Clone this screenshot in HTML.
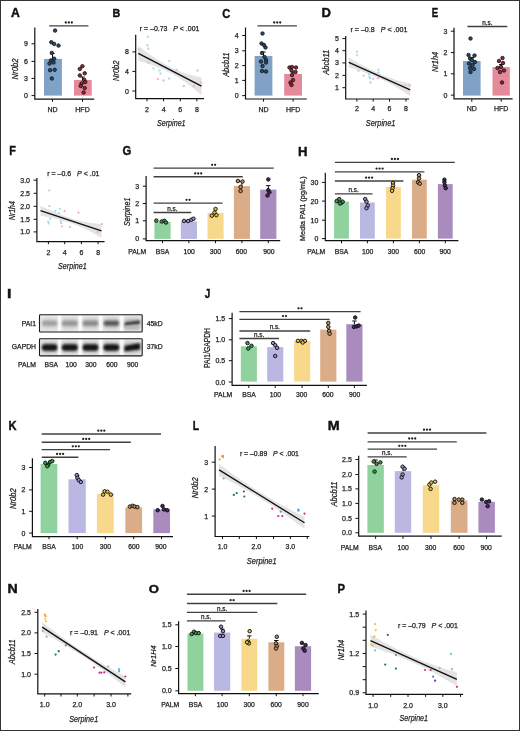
<!DOCTYPE html><html><head><meta charset="utf-8"><style>html,body{margin:0;padding:0;background:#fff;}svg{display:block;will-change:transform;}text{font-family:"Liberation Sans",sans-serif;stroke:#222;stroke-width:0.25px;}</style></head><body>
<svg width="520" height="731" viewBox="0 0 520 731">
<rect x="0.0" y="0.0" width="520.0" height="731.0" fill="#fff"/>
<rect x="0.5" y="0.5" width="519" height="730" fill="none" stroke="#333" stroke-width="1"/>
<text transform="translate(11.25,17.35) scale(1.025,1)" x="-0.30" y="0" font-size="11.92" font-weight="bold" fill="#111" style="stroke:#111;stroke-width:0.4px">A</text>
<path d="M34.8 27.4 V99.2 H94.2" fill="none" stroke="#111" stroke-width="1.2"/>
<line x1="31.5" y1="95.6" x2="34.8" y2="95.6" stroke="#111" stroke-width="1.0"/>
<text x="27.9" y="98.1" font-size="7" text-anchor="end" fill="#222">0</text>
<line x1="31.5" y1="78.4" x2="34.8" y2="78.4" stroke="#111" stroke-width="1.0"/>
<text x="27.9" y="80.9" font-size="7" text-anchor="end" fill="#222">3</text>
<line x1="31.5" y1="61.4" x2="34.8" y2="61.4" stroke="#111" stroke-width="1.0"/>
<text x="27.9" y="63.9" font-size="7" text-anchor="end" fill="#222">6</text>
<line x1="31.5" y1="43.8" x2="34.8" y2="43.8" stroke="#111" stroke-width="1.0"/>
<text x="27.9" y="46.3" font-size="7" text-anchor="end" fill="#222">9</text>
<line x1="52.5" y1="99.2" x2="52.5" y2="101.8" stroke="#111" stroke-width="1.0"/>
<text x="52.5" y="111.8" font-size="7" text-anchor="middle" fill="#222">ND</text>
<line x1="82.5" y1="99.2" x2="82.5" y2="101.8" stroke="#111" stroke-width="1.0"/>
<text x="82.5" y="111.8" font-size="7" text-anchor="middle" fill="#222">HFD</text>
<rect x="44.0" y="58.9" width="17.9" height="36.7" fill="#7fa2c6"/>
<rect x="74.0" y="80.0" width="17.7" height="15.6" fill="#e38a9b"/>
<line x1="49.2" y1="25.8" x2="88.4" y2="25.8" stroke="#404040" stroke-width="1.35"/>
<circle cx="65.8" cy="22.5" r="1.15" fill="#222" fill-opacity="1"/>
<circle cx="68.8" cy="22.5" r="1.15" fill="#222" fill-opacity="1"/>
<circle cx="71.8" cy="22.5" r="1.15" fill="#222" fill-opacity="1"/>
<text transform="translate(18.4,69.0) rotate(-90)" x="0" y="0" font-size="9" text-anchor="middle" fill="#222" font-style="italic" textLength="20.9" lengthAdjust="spacingAndGlyphs">Nr0b2</text>
<line x1="52.5" y1="58.9" x2="52.5" y2="53.5" stroke="#111" stroke-width="1.0"/>
<line x1="50.3" y1="53.5" x2="54.7" y2="53.5" stroke="#111" stroke-width="1.0"/>
<line x1="82.5" y1="80.0" x2="82.5" y2="77.0" stroke="#111" stroke-width="1.0"/>
<line x1="80.3" y1="77.0" x2="84.7" y2="77.0" stroke="#111" stroke-width="1.0"/>
<circle cx="55.1" cy="30.6" r="1.75" fill="#24496f" stroke="#111" stroke-width="0.8"/>
<circle cx="51.3" cy="42.2" r="1.75" fill="#24496f" stroke="#111" stroke-width="0.8"/>
<circle cx="54.2" cy="43.9" r="1.75" fill="#24496f" stroke="#111" stroke-width="0.8"/>
<circle cx="58.5" cy="45.6" r="1.75" fill="#24496f" stroke="#111" stroke-width="0.8"/>
<circle cx="51.8" cy="52.9" r="1.75" fill="#24496f" stroke="#111" stroke-width="0.8"/>
<circle cx="54.2" cy="58.7" r="1.75" fill="#24496f" stroke="#111" stroke-width="0.8"/>
<circle cx="51.0" cy="60.4" r="1.75" fill="#24496f" stroke="#111" stroke-width="0.8"/>
<circle cx="49.5" cy="63.6" r="1.75" fill="#24496f" stroke="#111" stroke-width="0.8"/>
<circle cx="50.1" cy="70.2" r="1.75" fill="#24496f" stroke="#111" stroke-width="0.8"/>
<circle cx="54.7" cy="69.8" r="1.75" fill="#24496f" stroke="#111" stroke-width="0.8"/>
<circle cx="51.8" cy="78.5" r="1.75" fill="#24496f" stroke="#111" stroke-width="0.8"/>
<circle cx="53.5" cy="62.5" r="1.75" fill="#24496f" stroke="#111" stroke-width="0.8"/>
<circle cx="82.4" cy="66.2" r="1.75" fill="#9a2139" stroke="#111" stroke-width="0.8"/>
<circle cx="79.8" cy="69.0" r="1.75" fill="#9a2139" stroke="#111" stroke-width="0.8"/>
<circle cx="84.7" cy="73.3" r="1.75" fill="#9a2139" stroke="#111" stroke-width="0.8"/>
<circle cx="79.8" cy="75.4" r="1.75" fill="#9a2139" stroke="#111" stroke-width="0.8"/>
<circle cx="84.2" cy="79.8" r="1.75" fill="#9a2139" stroke="#111" stroke-width="0.8"/>
<circle cx="85.3" cy="82.0" r="1.75" fill="#9a2139" stroke="#111" stroke-width="0.8"/>
<circle cx="81.6" cy="83.5" r="1.75" fill="#9a2139" stroke="#111" stroke-width="0.8"/>
<circle cx="80.7" cy="86.0" r="1.75" fill="#9a2139" stroke="#111" stroke-width="0.8"/>
<circle cx="84.7" cy="88.1" r="1.75" fill="#9a2139" stroke="#111" stroke-width="0.8"/>
<circle cx="83.6" cy="92.5" r="1.75" fill="#9a2139" stroke="#111" stroke-width="0.8"/>
<text transform="translate(113.25,17.35) scale(0.919,1)" x="-0.79" y="0" font-size="11.77" font-weight="bold" fill="#111" style="stroke:#111;stroke-width:0.4px">B</text>
<path d="M135.7 34.7 V98.7 H204.0" fill="none" stroke="#111" stroke-width="1.2"/>
<line x1="132.4" y1="91.0" x2="135.7" y2="91.0" stroke="#111" stroke-width="1.0"/>
<text x="128.8" y="93.5" font-size="7" text-anchor="end" fill="#222">0</text>
<line x1="132.4" y1="71.4" x2="135.7" y2="71.4" stroke="#111" stroke-width="1.0"/>
<text x="128.8" y="73.9" font-size="7" text-anchor="end" fill="#222">4</text>
<line x1="132.4" y1="51.9" x2="135.7" y2="51.9" stroke="#111" stroke-width="1.0"/>
<text x="128.8" y="54.4" font-size="7" text-anchor="end" fill="#222">8</text>
<line x1="147.0" y1="98.7" x2="147.0" y2="101.3" stroke="#111" stroke-width="1.0"/>
<text x="147.0" y="111.8" font-size="7" text-anchor="middle" fill="#222">2</text>
<line x1="163.6" y1="98.7" x2="163.6" y2="101.3" stroke="#111" stroke-width="1.0"/>
<text x="163.6" y="111.8" font-size="7" text-anchor="middle" fill="#222">4</text>
<line x1="180.3" y1="98.7" x2="180.3" y2="101.3" stroke="#111" stroke-width="1.0"/>
<text x="180.3" y="111.8" font-size="7" text-anchor="middle" fill="#222">6</text>
<line x1="196.9" y1="98.7" x2="196.9" y2="101.3" stroke="#111" stroke-width="1.0"/>
<text x="196.9" y="111.8" font-size="7" text-anchor="middle" fill="#222">8</text>
<path d="M138.3 45.8 L141.5 48.3 L144.6 50.7 L147.8 53.0 L150.9 55.3 L154.1 57.4 L157.3 59.5 L160.4 61.4 L163.6 63.3 L166.7 65.1 L169.9 66.8 L173.1 68.3 L176.2 69.8 L179.4 71.1 L182.5 72.4 L185.7 73.5 L188.9 74.5 L192.0 75.3 L195.2 76.1 L198.3 76.7 L201.5 77.2 L201.5 95.2 L198.3 92.4 L195.2 89.8 L192.0 87.2 L188.9 84.8 L185.7 82.5 L182.5 80.3 L179.4 78.2 L176.2 76.3 L173.1 74.5 L169.9 72.8 L166.7 71.2 L163.6 69.6 L160.4 68.2 L157.3 66.9 L154.1 65.7 L150.9 64.5 L147.8 63.4 L144.6 62.5 L141.5 61.6 L138.3 60.8 Z" fill="#d9d9d9" fill-opacity="0.75"/>
<line x1="138.3" y1="53.3" x2="201.5" y2="86.2" stroke="#111" stroke-width="1.35"/>
<text x="169.6" y="31.0" font-size="7" text-anchor="middle" fill="#222" textLength="59.6" lengthAdjust="spacingAndGlyphs">r = &#8211;0.73&#160;&#160;&#160;<tspan font-style="italic">P</tspan> &lt; .001</text>
<text transform="translate(118.6,70.8) rotate(-90)" x="0" y="0" font-size="9" text-anchor="middle" fill="#222" font-style="italic" textLength="20.5" lengthAdjust="spacingAndGlyphs">Nr0b2</text>
<text x="171.3" y="125.8" font-size="9.6" text-anchor="middle" fill="#222" font-style="italic" textLength="28.6" lengthAdjust="spacingAndGlyphs">Serpine1</text>
<circle cx="147.8" cy="36.7" r="1.25" fill="#a9d6ee" fill-opacity="0.8"/>
<circle cx="147.4" cy="45.2" r="1.25" fill="#a9d6ee" fill-opacity="0.8"/>
<circle cx="148.4" cy="48.8" r="1.25" fill="#a9d6ee" fill-opacity="0.8"/>
<circle cx="138.7" cy="49.2" r="1.25" fill="#a9d6ee" fill-opacity="0.8"/>
<circle cx="153.5" cy="68.4" r="1.25" fill="#a9d6ee" fill-opacity="0.8"/>
<circle cx="159.5" cy="70.4" r="1.25" fill="#a9d6ee" fill-opacity="0.8"/>
<circle cx="160.5" cy="73.5" r="1.25" fill="#a9d6ee" fill-opacity="0.8"/>
<circle cx="169.2" cy="61.0" r="1.25" fill="#a9d6ee" fill-opacity="0.8"/>
<circle cx="169.2" cy="78.5" r="1.25" fill="#a9d6ee" fill-opacity="0.8"/>
<circle cx="176.7" cy="69.8" r="1.25" fill="#a9d6ee" fill-opacity="0.8"/>
<circle cx="148.4" cy="62.4" r="1.25" fill="#a9d6ee" fill-opacity="0.8"/>
<circle cx="157.9" cy="78.9" r="1.25" fill="#eab0be" fill-opacity="0.8"/>
<circle cx="163.6" cy="80.5" r="1.25" fill="#eab0be" fill-opacity="0.8"/>
<circle cx="183.8" cy="86.0" r="1.25" fill="#eab0be" fill-opacity="0.8"/>
<circle cx="193.9" cy="86.0" r="1.25" fill="#eab0be" fill-opacity="0.8"/>
<circle cx="197.5" cy="70.4" r="1.25" fill="#eab0be" fill-opacity="0.8"/>
<circle cx="200.9" cy="82.6" r="1.25" fill="#eab0be" fill-opacity="0.8"/>
<text transform="translate(222.65,17.53) scale(0.912,1)" x="-0.50" y="0" font-size="12.08" font-weight="bold" fill="#111" style="stroke:#111;stroke-width:0.4px">C</text>
<path d="M245.5 27.5 V99.0 H306.8" fill="none" stroke="#111" stroke-width="1.2"/>
<line x1="242.2" y1="95.6" x2="245.5" y2="95.6" stroke="#111" stroke-width="1.0"/>
<text x="238.6" y="98.1" font-size="7" text-anchor="end" fill="#222">0</text>
<line x1="242.2" y1="80.4" x2="245.5" y2="80.4" stroke="#111" stroke-width="1.0"/>
<text x="238.6" y="82.9" font-size="7" text-anchor="end" fill="#222">1</text>
<line x1="242.2" y1="65.6" x2="245.5" y2="65.6" stroke="#111" stroke-width="1.0"/>
<text x="238.6" y="68.1" font-size="7" text-anchor="end" fill="#222">2</text>
<line x1="242.2" y1="50.8" x2="245.5" y2="50.8" stroke="#111" stroke-width="1.0"/>
<text x="238.6" y="53.3" font-size="7" text-anchor="end" fill="#222">3</text>
<line x1="242.2" y1="35.5" x2="245.5" y2="35.5" stroke="#111" stroke-width="1.0"/>
<text x="238.6" y="38.0" font-size="7" text-anchor="end" fill="#222">4</text>
<line x1="263.5" y1="99.0" x2="263.5" y2="101.6" stroke="#111" stroke-width="1.0"/>
<text x="263.5" y="111.8" font-size="7" text-anchor="middle" fill="#222">ND</text>
<line x1="293.1" y1="99.0" x2="293.1" y2="101.6" stroke="#111" stroke-width="1.0"/>
<text x="293.1" y="111.8" font-size="7" text-anchor="middle" fill="#222">HFD</text>
<rect x="254.6" y="56.0" width="17.8" height="39.6" fill="#7fa2c6"/>
<rect x="284.2" y="74.0" width="17.8" height="21.6" fill="#e38a9b"/>
<line x1="257.5" y1="25.8" x2="296.9" y2="25.8" stroke="#404040" stroke-width="1.35"/>
<circle cx="274.2" cy="22.5" r="1.15" fill="#222" fill-opacity="1"/>
<circle cx="277.2" cy="22.5" r="1.15" fill="#222" fill-opacity="1"/>
<circle cx="280.2" cy="22.5" r="1.15" fill="#222" fill-opacity="1"/>
<text transform="translate(229.0,64.6) rotate(-90)" x="0" y="0" font-size="9" text-anchor="middle" fill="#222" font-style="italic" textLength="24.4" lengthAdjust="spacingAndGlyphs">Abcb11</text>
<line x1="263.5" y1="56.0" x2="263.5" y2="52.0" stroke="#111" stroke-width="1.0"/>
<line x1="261.3" y1="52.0" x2="265.7" y2="52.0" stroke="#111" stroke-width="1.0"/>
<line x1="293.1" y1="74.0" x2="293.1" y2="72.0" stroke="#111" stroke-width="1.0"/>
<line x1="290.9" y1="72.0" x2="295.3" y2="72.0" stroke="#111" stroke-width="1.0"/>
<circle cx="262.5" cy="33.5" r="1.75" fill="#24496f" stroke="#111" stroke-width="0.8"/>
<circle cx="261.5" cy="43.5" r="1.75" fill="#24496f" stroke="#111" stroke-width="0.8"/>
<circle cx="264.0" cy="45.0" r="1.75" fill="#24496f" stroke="#111" stroke-width="0.8"/>
<circle cx="265.5" cy="47.5" r="1.75" fill="#24496f" stroke="#111" stroke-width="0.8"/>
<circle cx="262.0" cy="53.0" r="1.75" fill="#24496f" stroke="#111" stroke-width="0.8"/>
<circle cx="264.5" cy="57.0" r="1.75" fill="#24496f" stroke="#111" stroke-width="0.8"/>
<circle cx="266.0" cy="60.0" r="1.75" fill="#24496f" stroke="#111" stroke-width="0.8"/>
<circle cx="261.0" cy="61.5" r="1.75" fill="#24496f" stroke="#111" stroke-width="0.8"/>
<circle cx="266.0" cy="62.5" r="1.75" fill="#24496f" stroke="#111" stroke-width="0.8"/>
<circle cx="262.5" cy="66.0" r="1.75" fill="#24496f" stroke="#111" stroke-width="0.8"/>
<circle cx="262.0" cy="71.0" r="1.75" fill="#24496f" stroke="#111" stroke-width="0.8"/>
<circle cx="266.0" cy="71.5" r="1.75" fill="#24496f" stroke="#111" stroke-width="0.8"/>
<circle cx="289.5" cy="67.5" r="1.75" fill="#9a2139" stroke="#111" stroke-width="0.8"/>
<circle cx="292.0" cy="67.0" r="1.75" fill="#9a2139" stroke="#111" stroke-width="0.8"/>
<circle cx="296.0" cy="67.5" r="1.75" fill="#9a2139" stroke="#111" stroke-width="0.8"/>
<circle cx="291.5" cy="70.5" r="1.75" fill="#9a2139" stroke="#111" stroke-width="0.8"/>
<circle cx="295.5" cy="72.0" r="1.75" fill="#9a2139" stroke="#111" stroke-width="0.8"/>
<circle cx="292.0" cy="75.0" r="1.75" fill="#9a2139" stroke="#111" stroke-width="0.8"/>
<circle cx="290.5" cy="82.5" r="1.75" fill="#9a2139" stroke="#111" stroke-width="0.8"/>
<circle cx="291.5" cy="85.0" r="1.75" fill="#9a2139" stroke="#111" stroke-width="0.8"/>
<circle cx="293.0" cy="80.0" r="1.75" fill="#9a2139" stroke="#111" stroke-width="0.8"/>
<text transform="translate(322.45,17.45) scale(1.094,1)" x="-0.80" y="0" font-size="11.92" font-weight="bold" fill="#111" style="stroke:#111;stroke-width:0.4px">D</text>
<path d="M345.7 35.9 V99.0 H409.1" fill="none" stroke="#111" stroke-width="1.2"/>
<line x1="342.4" y1="87.7" x2="345.7" y2="87.7" stroke="#111" stroke-width="1.0"/>
<text x="338.8" y="90.2" font-size="7" text-anchor="end" fill="#222">1</text>
<line x1="342.4" y1="75.4" x2="345.7" y2="75.4" stroke="#111" stroke-width="1.0"/>
<text x="338.8" y="77.9" font-size="7" text-anchor="end" fill="#222">2</text>
<line x1="342.4" y1="62.9" x2="345.7" y2="62.9" stroke="#111" stroke-width="1.0"/>
<text x="338.8" y="65.4" font-size="7" text-anchor="end" fill="#222">3</text>
<line x1="342.4" y1="50.7" x2="345.7" y2="50.7" stroke="#111" stroke-width="1.0"/>
<text x="338.8" y="53.2" font-size="7" text-anchor="end" fill="#222">4</text>
<line x1="342.4" y1="38.6" x2="345.7" y2="38.6" stroke="#111" stroke-width="1.0"/>
<text x="338.8" y="41.1" font-size="7" text-anchor="end" fill="#222">5</text>
<line x1="356.9" y1="99.0" x2="356.9" y2="101.6" stroke="#111" stroke-width="1.0"/>
<text x="356.9" y="111.4" font-size="7" text-anchor="middle" fill="#222">2</text>
<line x1="373.2" y1="99.0" x2="373.2" y2="101.6" stroke="#111" stroke-width="1.0"/>
<text x="373.2" y="111.4" font-size="7" text-anchor="middle" fill="#222">4</text>
<line x1="389.5" y1="99.0" x2="389.5" y2="101.6" stroke="#111" stroke-width="1.0"/>
<text x="389.5" y="111.4" font-size="7" text-anchor="middle" fill="#222">6</text>
<line x1="406.0" y1="99.0" x2="406.0" y2="101.6" stroke="#111" stroke-width="1.0"/>
<text x="406.0" y="111.4" font-size="7" text-anchor="middle" fill="#222">8</text>
<path d="M348.8 57.3 L351.9 59.1 L354.9 60.9 L358.0 62.7 L361.1 64.4 L364.1 66.0 L367.2 67.6 L370.3 69.2 L373.4 70.7 L376.4 72.1 L379.5 73.5 L382.6 74.9 L385.6 76.1 L388.7 77.3 L391.8 78.4 L394.9 79.4 L397.9 80.4 L401.0 81.2 L404.1 82.0 L407.1 82.7 L410.2 83.3 L410.2 96.3 L407.1 94.2 L404.1 92.1 L401.0 90.1 L397.9 88.2 L394.9 86.4 L391.8 84.7 L388.7 83.0 L385.6 81.5 L382.6 80.0 L379.5 78.5 L376.4 77.2 L373.4 75.9 L370.3 74.6 L367.2 73.5 L364.1 72.3 L361.1 71.2 L358.0 70.1 L354.9 69.1 L351.9 68.2 L348.8 67.3 Z" fill="#d9d9d9" fill-opacity="0.75"/>
<line x1="348.8" y1="62.3" x2="410.2" y2="89.8" stroke="#111" stroke-width="1.35"/>
<text x="378.9" y="32.0" font-size="7" text-anchor="middle" fill="#222" textLength="56.9" lengthAdjust="spacingAndGlyphs">r = &#8211;0.8&#160;&#160;&#160;<tspan font-style="italic">P</tspan> &lt; .001</text>
<text transform="translate(329.0,62.3) rotate(-90)" x="0" y="0" font-size="9" text-anchor="middle" fill="#222" font-style="italic" textLength="25.0" lengthAdjust="spacingAndGlyphs">Abcb11</text>
<text x="380.6" y="125.8" font-size="9.6" text-anchor="middle" fill="#222" font-style="italic" textLength="29.6" lengthAdjust="spacingAndGlyphs">Serpine1</text>
<circle cx="357.0" cy="51.7" r="1.25" fill="#a9d6ee" fill-opacity="0.8"/>
<circle cx="357.0" cy="54.9" r="1.25" fill="#a9d6ee" fill-opacity="0.8"/>
<circle cx="358.4" cy="70.8" r="1.25" fill="#a9d6ee" fill-opacity="0.8"/>
<circle cx="363.7" cy="75.4" r="1.25" fill="#a9d6ee" fill-opacity="0.8"/>
<circle cx="369.0" cy="74.0" r="1.25" fill="#a9d6ee" fill-opacity="0.8"/>
<circle cx="369.5" cy="76.6" r="1.25" fill="#a9d6ee" fill-opacity="0.8"/>
<circle cx="370.0" cy="78.0" r="1.25" fill="#a9d6ee" fill-opacity="0.8"/>
<circle cx="378.5" cy="69.7" r="1.25" fill="#a9d6ee" fill-opacity="0.8"/>
<circle cx="378.5" cy="72.5" r="1.25" fill="#a9d6ee" fill-opacity="0.8"/>
<circle cx="370.4" cy="82.4" r="1.25" fill="#eab0be" fill-opacity="0.8"/>
<circle cx="373.2" cy="78.8" r="1.25" fill="#eab0be" fill-opacity="0.8"/>
<circle cx="378.0" cy="78.2" r="1.25" fill="#eab0be" fill-opacity="0.8"/>
<circle cx="409.8" cy="85.2" r="1.25" fill="#eab0be" fill-opacity="0.8"/>
<circle cx="405.0" cy="85.6" r="1.25" fill="#eab0be" fill-opacity="0.8"/>
<text transform="translate(432.35,17.45) scale(0.808,1)" x="-0.80" y="0" font-size="11.92" font-weight="bold" fill="#111" style="stroke:#111;stroke-width:0.4px">E</text>
<path d="M454.0 27.7 V98.9 H512.6" fill="none" stroke="#111" stroke-width="1.2"/>
<line x1="450.9" y1="95.1" x2="454.2" y2="95.1" stroke="#111" stroke-width="1.0"/>
<text x="447.3" y="97.6" font-size="7" text-anchor="end" fill="#222">0</text>
<line x1="450.9" y1="73.8" x2="454.2" y2="73.8" stroke="#111" stroke-width="1.0"/>
<text x="447.3" y="76.3" font-size="7" text-anchor="end" fill="#222">1</text>
<line x1="450.9" y1="52.6" x2="454.2" y2="52.6" stroke="#111" stroke-width="1.0"/>
<text x="447.3" y="55.1" font-size="7" text-anchor="end" fill="#222">2</text>
<line x1="450.9" y1="31.2" x2="454.2" y2="31.2" stroke="#111" stroke-width="1.0"/>
<text x="447.3" y="33.7" font-size="7" text-anchor="end" fill="#222">3</text>
<line x1="471.8" y1="99.2" x2="471.8" y2="101.8" stroke="#111" stroke-width="1.0"/>
<text x="471.8" y="111.0" font-size="7" text-anchor="middle" fill="#222">ND</text>
<line x1="501.2" y1="99.2" x2="501.2" y2="101.8" stroke="#111" stroke-width="1.0"/>
<text x="501.2" y="111.0" font-size="7" text-anchor="middle" fill="#222">HFD</text>
<rect x="463.0" y="61.0" width="17.6" height="34.6" fill="#7fa2c6"/>
<rect x="492.5" y="67.1" width="17.3" height="28.5" fill="#e38a9b"/>
<line x1="467.4" y1="26.5" x2="507.3" y2="26.5" stroke="#404040" stroke-width="1.35"/>
<text x="487.4" y="24.8" font-size="6.3" text-anchor="middle" fill="#222">n.s.</text>
<text transform="translate(437.6,61.9) rotate(-90)" x="0" y="0" font-size="9" text-anchor="middle" fill="#222" font-style="italic" textLength="20.1" lengthAdjust="spacingAndGlyphs">Nr1h4</text>
<line x1="471.8" y1="60.7" x2="471.8" y2="57.5" stroke="#111" stroke-width="1.0"/>
<line x1="469.6" y1="57.5" x2="474.0" y2="57.5" stroke="#111" stroke-width="1.0"/>
<line x1="501.2" y1="67.0" x2="501.2" y2="64.5" stroke="#111" stroke-width="1.0"/>
<line x1="499.0" y1="64.5" x2="503.4" y2="64.5" stroke="#111" stroke-width="1.0"/>
<circle cx="470.5" cy="38.5" r="1.75" fill="#24496f" stroke="#111" stroke-width="0.8"/>
<circle cx="468.5" cy="55.0" r="1.75" fill="#24496f" stroke="#111" stroke-width="0.8"/>
<circle cx="474.5" cy="55.5" r="1.75" fill="#24496f" stroke="#111" stroke-width="0.8"/>
<circle cx="470.0" cy="58.5" r="1.75" fill="#24496f" stroke="#111" stroke-width="0.8"/>
<circle cx="472.0" cy="60.0" r="1.75" fill="#24496f" stroke="#111" stroke-width="0.8"/>
<circle cx="475.0" cy="62.0" r="1.75" fill="#24496f" stroke="#111" stroke-width="0.8"/>
<circle cx="469.0" cy="63.5" r="1.75" fill="#24496f" stroke="#111" stroke-width="0.8"/>
<circle cx="472.5" cy="65.0" r="1.75" fill="#24496f" stroke="#111" stroke-width="0.8"/>
<circle cx="470.0" cy="68.0" r="1.75" fill="#24496f" stroke="#111" stroke-width="0.8"/>
<circle cx="474.0" cy="69.0" r="1.75" fill="#24496f" stroke="#111" stroke-width="0.8"/>
<circle cx="470.5" cy="72.0" r="1.75" fill="#24496f" stroke="#111" stroke-width="0.8"/>
<circle cx="502.5" cy="58.0" r="1.75" fill="#9a2139" stroke="#111" stroke-width="0.8"/>
<circle cx="499.0" cy="61.0" r="1.75" fill="#9a2139" stroke="#111" stroke-width="0.8"/>
<circle cx="503.0" cy="63.0" r="1.75" fill="#9a2139" stroke="#111" stroke-width="0.8"/>
<circle cx="497.5" cy="68.0" r="1.75" fill="#9a2139" stroke="#111" stroke-width="0.8"/>
<circle cx="501.0" cy="67.0" r="1.75" fill="#9a2139" stroke="#111" stroke-width="0.8"/>
<circle cx="504.0" cy="70.5" r="1.75" fill="#9a2139" stroke="#111" stroke-width="0.8"/>
<circle cx="500.0" cy="72.0" r="1.75" fill="#9a2139" stroke="#111" stroke-width="0.8"/>
<circle cx="502.0" cy="82.5" r="1.75" fill="#9a2139" stroke="#111" stroke-width="0.8"/>
<text transform="translate(9.95,155.35) scale(0.857,1)" x="-0.85" y="0" font-size="12.65" font-weight="bold" fill="#111" style="stroke:#111;stroke-width:0.4px">F</text>
<path d="M36.9 178.1 V241.6 H104.6" fill="none" stroke="#111" stroke-width="1.2"/>
<line x1="33.6" y1="231.9" x2="36.9" y2="231.9" stroke="#111" stroke-width="1.0"/>
<text x="30.0" y="234.4" font-size="7" text-anchor="end" fill="#222">1.0</text>
<line x1="33.6" y1="219.3" x2="36.9" y2="219.3" stroke="#111" stroke-width="1.0"/>
<text x="30.0" y="221.8" font-size="7" text-anchor="end" fill="#222">1.5</text>
<line x1="33.6" y1="206.3" x2="36.9" y2="206.3" stroke="#111" stroke-width="1.0"/>
<text x="30.0" y="208.8" font-size="7" text-anchor="end" fill="#222">2.0</text>
<line x1="33.6" y1="193.3" x2="36.9" y2="193.3" stroke="#111" stroke-width="1.0"/>
<text x="30.0" y="195.8" font-size="7" text-anchor="end" fill="#222">2.5</text>
<line x1="33.6" y1="180.2" x2="36.9" y2="180.2" stroke="#111" stroke-width="1.0"/>
<text x="30.0" y="182.7" font-size="7" text-anchor="end" fill="#222">3.0</text>
<line x1="48.4" y1="241.6" x2="48.4" y2="244.2" stroke="#111" stroke-width="1.0"/>
<text x="48.4" y="254.8" font-size="7" text-anchor="middle" fill="#222">2</text>
<line x1="64.7" y1="241.6" x2="64.7" y2="244.2" stroke="#111" stroke-width="1.0"/>
<text x="64.7" y="254.8" font-size="7" text-anchor="middle" fill="#222">4</text>
<line x1="81.4" y1="241.6" x2="81.4" y2="244.2" stroke="#111" stroke-width="1.0"/>
<text x="81.4" y="254.8" font-size="7" text-anchor="middle" fill="#222">6</text>
<line x1="98.1" y1="241.6" x2="98.1" y2="244.2" stroke="#111" stroke-width="1.0"/>
<text x="98.1" y="254.8" font-size="7" text-anchor="middle" fill="#222">8</text>
<path d="M40.5 205.7 L43.5 207.2 L46.6 208.6 L49.6 210.0 L52.7 211.3 L55.8 212.6 L58.8 213.8 L61.8 215.0 L64.9 216.1 L68.0 217.2 L71.0 218.2 L74.1 219.2 L77.1 220.1 L80.2 220.9 L83.2 221.6 L86.2 222.2 L89.3 222.7 L92.3 223.1 L95.4 223.4 L98.4 223.7 L101.5 223.8 L101.5 237.8 L98.4 235.9 L95.4 234.2 L92.3 232.5 L89.3 230.9 L86.2 229.4 L83.2 228.0 L80.2 226.7 L77.1 225.4 L74.1 224.3 L71.0 223.2 L68.0 222.3 L64.9 221.3 L61.8 220.5 L58.8 219.6 L55.8 218.8 L52.7 218.1 L49.6 217.4 L46.6 216.8 L43.5 216.2 L40.5 215.7 Z" fill="#d9d9d9" fill-opacity="0.75"/>
<line x1="40.5" y1="210.7" x2="101.5" y2="230.8" stroke="#111" stroke-width="1.35"/>
<text x="73.3" y="176.4" font-size="7" text-anchor="middle" fill="#222" textLength="52.3" lengthAdjust="spacingAndGlyphs">r = &#8211;0.6&#160;&#160;&#160;<tspan font-style="italic">P</tspan> &lt; .01</text>
<text transform="translate(15.4,210.6) rotate(-90)" x="0" y="0" font-size="9" text-anchor="middle" fill="#222" font-style="italic" textLength="18.7" lengthAdjust="spacingAndGlyphs">Nr1h4</text>
<text x="72.4" y="269.2" font-size="9.8" text-anchor="middle" fill="#222" font-style="italic" textLength="28.6" lengthAdjust="spacingAndGlyphs">Serpine1</text>
<circle cx="49.2" cy="190.4" r="1.1" fill="#a9d6ee" fill-opacity="1"/>
<circle cx="49.5" cy="206.2" r="1.1" fill="#a9d6ee" fill-opacity="1"/>
<circle cx="55.4" cy="211.2" r="1.1" fill="#a9d6ee" fill-opacity="1"/>
<circle cx="60.0" cy="208.8" r="1.1" fill="#a9d6ee" fill-opacity="1"/>
<circle cx="58.9" cy="213.0" r="1.1" fill="#a9d6ee" fill-opacity="1"/>
<circle cx="50.0" cy="218.8" r="1.1" fill="#a9d6ee" fill-opacity="1"/>
<circle cx="48.2" cy="221.9" r="1.1" fill="#a9d6ee" fill-opacity="1"/>
<circle cx="48.8" cy="223.5" r="1.1" fill="#a9d6ee" fill-opacity="1"/>
<circle cx="60.8" cy="221.2" r="1.1" fill="#a9d6ee" fill-opacity="1"/>
<circle cx="61.2" cy="223.2" r="1.1" fill="#a9d6ee" fill-opacity="1"/>
<circle cx="64.6" cy="211.2" r="1.1" fill="#eab0be" fill-opacity="1"/>
<circle cx="78.5" cy="212.7" r="1.1" fill="#eab0be" fill-opacity="1"/>
<circle cx="62.0" cy="226.5" r="1.1" fill="#eab0be" fill-opacity="1"/>
<circle cx="70.0" cy="227.0" r="1.1" fill="#eab0be" fill-opacity="1"/>
<circle cx="102.0" cy="224.2" r="1.1" fill="#eab0be" fill-opacity="1"/>
<circle cx="97.7" cy="231.9" r="1.1" fill="#eab0be" fill-opacity="1"/>
<text transform="translate(122.95,155.43) scale(0.886,1)" x="-0.52" y="0" font-size="12.71" font-weight="bold" fill="#111" style="stroke:#111;stroke-width:0.4px">G</text>
<path d="M146.1 176.0 V240.6 H280.2" fill="none" stroke="#111" stroke-width="1.2"/>
<line x1="142.8" y1="238.9" x2="146.1" y2="238.9" stroke="#111" stroke-width="1.0"/>
<text x="139.2" y="241.4" font-size="7" text-anchor="end" fill="#222">0</text>
<line x1="142.8" y1="220.8" x2="146.1" y2="220.8" stroke="#111" stroke-width="1.0"/>
<text x="139.2" y="223.3" font-size="7" text-anchor="end" fill="#222">1</text>
<line x1="142.8" y1="203.5" x2="146.1" y2="203.5" stroke="#111" stroke-width="1.0"/>
<text x="139.2" y="206.0" font-size="7" text-anchor="end" fill="#222">2</text>
<line x1="142.8" y1="186.2" x2="146.1" y2="186.2" stroke="#111" stroke-width="1.0"/>
<text x="139.2" y="188.7" font-size="7" text-anchor="end" fill="#222">3</text>
<line x1="162.5" y1="240.6" x2="162.5" y2="243.2" stroke="#111" stroke-width="1.0"/>
<text x="162.5" y="254.5" font-size="7" text-anchor="middle" fill="#222"></text>
<line x1="188.9" y1="240.6" x2="188.9" y2="243.2" stroke="#111" stroke-width="1.0"/>
<text x="188.9" y="254.5" font-size="7" text-anchor="middle" fill="#222"></text>
<line x1="215.5" y1="240.6" x2="215.5" y2="243.2" stroke="#111" stroke-width="1.0"/>
<text x="215.5" y="254.5" font-size="7" text-anchor="middle" fill="#222"></text>
<line x1="241.9" y1="240.6" x2="241.9" y2="243.2" stroke="#111" stroke-width="1.0"/>
<text x="241.9" y="254.5" font-size="7" text-anchor="middle" fill="#222"></text>
<line x1="268.3" y1="240.6" x2="268.3" y2="243.2" stroke="#111" stroke-width="1.0"/>
<text x="268.3" y="254.5" font-size="7" text-anchor="middle" fill="#222"></text>
<text x="146.2" y="254.4" font-size="6.8" text-anchor="end" fill="#222">PALM</text>
<text x="162.5" y="254.4" font-size="6.8" text-anchor="middle" fill="#222">BSA</text>
<text x="189.2" y="254.4" font-size="6.8" text-anchor="middle" fill="#222">100</text>
<text x="215.4" y="254.4" font-size="6.8" text-anchor="middle" fill="#222">300</text>
<text x="241.4" y="254.4" font-size="6.8" text-anchor="middle" fill="#222">600</text>
<text x="268.8" y="254.4" font-size="6.8" text-anchor="middle" fill="#222">900</text>
<rect x="154.4" y="221.9" width="16.2" height="17.0" fill="#90d29d"/>
<rect x="180.8" y="221.4" width="16.2" height="17.5" fill="#bab8e2"/>
<rect x="207.5" y="213.0" width="16.1" height="25.9" fill="#f8d98c"/>
<rect x="233.9" y="186.1" width="16.1" height="52.8" fill="#daac87"/>
<rect x="260.2" y="189.6" width="16.2" height="49.3" fill="#a98cbd"/>
<line x1="153.6" y1="168.1" x2="273.7" y2="168.1" stroke="#404040" stroke-width="1.35"/>
<circle cx="212.1" cy="164.8" r="1.15" fill="#222" fill-opacity="1"/>
<circle cx="215.1" cy="164.8" r="1.15" fill="#222" fill-opacity="1"/>
<line x1="153.6" y1="176.7" x2="242.8" y2="176.7" stroke="#404040" stroke-width="1.35"/>
<circle cx="195.2" cy="173.4" r="1.15" fill="#222" fill-opacity="1"/>
<circle cx="198.2" cy="173.4" r="1.15" fill="#222" fill-opacity="1"/>
<circle cx="201.2" cy="173.4" r="1.15" fill="#222" fill-opacity="1"/>
<line x1="153.6" y1="203.1" x2="222.5" y2="203.1" stroke="#404040" stroke-width="1.35"/>
<circle cx="186.6" cy="199.8" r="1.15" fill="#222" fill-opacity="1"/>
<circle cx="189.6" cy="199.8" r="1.15" fill="#222" fill-opacity="1"/>
<line x1="153.6" y1="212.5" x2="191.3" y2="212.5" stroke="#404040" stroke-width="1.35"/>
<text x="172.4" y="210.8" font-size="6.3" text-anchor="middle" fill="#222">n.s.</text>
<text transform="translate(130.0,211.8) rotate(-90)" x="0" y="0" font-size="9" text-anchor="middle" fill="#222" font-style="italic" textLength="28.3" lengthAdjust="spacingAndGlyphs">Serpine1</text>
<line x1="241.9" y1="186.1" x2="241.9" y2="181.5" stroke="#111" stroke-width="1.0"/>
<line x1="239.7" y1="181.5" x2="244.1" y2="181.5" stroke="#111" stroke-width="1.0"/>
<line x1="268.3" y1="189.6" x2="268.3" y2="185.6" stroke="#111" stroke-width="1.0"/>
<line x1="266.1" y1="185.6" x2="270.5" y2="185.6" stroke="#111" stroke-width="1.0"/>
<circle cx="156.3" cy="220.6" r="1.75" fill="#3f9a4c" stroke="#111" stroke-width="0.95"/>
<circle cx="161.7" cy="221.5" r="1.75" fill="#3f9a4c" stroke="#111" stroke-width="0.95"/>
<circle cx="164.4" cy="220.8" r="1.75" fill="#3f9a4c" stroke="#111" stroke-width="0.95"/>
<circle cx="166.0" cy="222.5" r="1.75" fill="#3f9a4c" stroke="#111" stroke-width="0.95"/>
<circle cx="184.0" cy="220.9" r="1.75" fill="#9593cc" stroke="#111" stroke-width="0.95"/>
<circle cx="188.1" cy="221.0" r="1.75" fill="#9593cc" stroke="#111" stroke-width="0.95"/>
<circle cx="191.3" cy="219.8" r="1.75" fill="#9593cc" stroke="#111" stroke-width="0.95"/>
<circle cx="193.5" cy="218.7" r="1.75" fill="#9593cc" stroke="#111" stroke-width="0.95"/>
<circle cx="215.5" cy="209.0" r="1.75" fill="#e8c43a" stroke="#111" stroke-width="0.95"/>
<circle cx="214.5" cy="212.5" r="1.75" fill="#e8c43a" stroke="#111" stroke-width="0.95"/>
<circle cx="211.8" cy="215.7" r="1.75" fill="#e8c43a" stroke="#111" stroke-width="0.95"/>
<circle cx="216.4" cy="215.2" r="1.75" fill="#e8c43a" stroke="#111" stroke-width="0.95"/>
<circle cx="237.9" cy="181.0" r="1.75" fill="#c98f5c" stroke="#111" stroke-width="0.95"/>
<circle cx="242.5" cy="181.5" r="1.75" fill="#c98f5c" stroke="#111" stroke-width="0.95"/>
<circle cx="240.6" cy="186.9" r="1.75" fill="#c98f5c" stroke="#111" stroke-width="0.95"/>
<circle cx="240.6" cy="191.0" r="1.75" fill="#c98f5c" stroke="#111" stroke-width="0.95"/>
<circle cx="268.3" cy="179.4" r="1.75" fill="#45275f" stroke="#111" stroke-width="0.95"/>
<circle cx="268.3" cy="190.2" r="1.75" fill="#45275f" stroke="#111" stroke-width="0.95"/>
<circle cx="269.4" cy="192.3" r="1.75" fill="#45275f" stroke="#111" stroke-width="0.95"/>
<circle cx="267.5" cy="195.5" r="1.75" fill="#45275f" stroke="#111" stroke-width="0.95"/>
<text transform="translate(298.85,155.55) scale(1.048,1)" x="-0.84" y="0" font-size="12.50" font-weight="bold" fill="#111" style="stroke:#111;stroke-width:0.4px">H</text>
<path d="M325.3 172.7 V240.7 H458.4" fill="none" stroke="#111" stroke-width="1.2"/>
<line x1="322.0" y1="238.6" x2="325.3" y2="238.6" stroke="#111" stroke-width="1.0"/>
<text x="318.4" y="241.1" font-size="7" text-anchor="end" fill="#222">0</text>
<line x1="322.0" y1="220.2" x2="325.3" y2="220.2" stroke="#111" stroke-width="1.0"/>
<text x="318.4" y="222.7" font-size="7" text-anchor="end" fill="#222">10</text>
<line x1="322.0" y1="201.1" x2="325.3" y2="201.1" stroke="#111" stroke-width="1.0"/>
<text x="318.4" y="203.6" font-size="7" text-anchor="end" fill="#222">20</text>
<line x1="322.0" y1="182.4" x2="325.3" y2="182.4" stroke="#111" stroke-width="1.0"/>
<text x="318.4" y="184.9" font-size="7" text-anchor="end" fill="#222">30</text>
<line x1="341.5" y1="240.7" x2="341.5" y2="243.3" stroke="#111" stroke-width="1.0"/>
<text x="341.5" y="253.6" font-size="7" text-anchor="middle" fill="#222"></text>
<line x1="367.4" y1="240.7" x2="367.4" y2="243.3" stroke="#111" stroke-width="1.0"/>
<text x="367.4" y="253.6" font-size="7" text-anchor="middle" fill="#222"></text>
<line x1="393.4" y1="240.7" x2="393.4" y2="243.3" stroke="#111" stroke-width="1.0"/>
<text x="393.4" y="253.6" font-size="7" text-anchor="middle" fill="#222"></text>
<line x1="419.4" y1="240.7" x2="419.4" y2="243.3" stroke="#111" stroke-width="1.0"/>
<text x="419.4" y="253.6" font-size="7" text-anchor="middle" fill="#222"></text>
<line x1="445.3" y1="240.7" x2="445.3" y2="243.3" stroke="#111" stroke-width="1.0"/>
<text x="445.3" y="253.6" font-size="7" text-anchor="middle" fill="#222"></text>
<text x="325.3" y="253.5" font-size="6.8" text-anchor="end" fill="#222">PALM</text>
<text x="341.6" y="253.5" font-size="6.8" text-anchor="middle" fill="#222">BSA</text>
<text x="367.7" y="253.5" font-size="6.8" text-anchor="middle" fill="#222">100</text>
<text x="393.4" y="253.5" font-size="6.8" text-anchor="middle" fill="#222">300</text>
<text x="419.6" y="253.5" font-size="6.8" text-anchor="middle" fill="#222">600</text>
<text x="445.2" y="253.5" font-size="6.8" text-anchor="middle" fill="#222">900</text>
<rect x="334.1" y="201.7" width="14.8" height="36.9" fill="#90d29d"/>
<rect x="360.0" y="202.5" width="14.8" height="36.1" fill="#bab8e2"/>
<rect x="386.0" y="186.9" width="14.8" height="51.7" fill="#f8d98c"/>
<rect x="412.0" y="179.7" width="14.8" height="58.9" fill="#daac87"/>
<rect x="437.9" y="184.1" width="14.8" height="54.5" fill="#a98cbd"/>
<line x1="334.9" y1="162.3" x2="454.8" y2="162.3" stroke="#404040" stroke-width="1.35"/>
<circle cx="391.9" cy="159.0" r="1.15" fill="#222" fill-opacity="1"/>
<circle cx="394.9" cy="159.0" r="1.15" fill="#222" fill-opacity="1"/>
<circle cx="397.9" cy="159.0" r="1.15" fill="#222" fill-opacity="1"/>
<line x1="334.9" y1="171.9" x2="424.4" y2="171.9" stroke="#404040" stroke-width="1.35"/>
<circle cx="376.6" cy="168.6" r="1.15" fill="#222" fill-opacity="1"/>
<circle cx="379.6" cy="168.6" r="1.15" fill="#222" fill-opacity="1"/>
<circle cx="382.6" cy="168.6" r="1.15" fill="#222" fill-opacity="1"/>
<line x1="334.9" y1="181.0" x2="403.4" y2="181.0" stroke="#404040" stroke-width="1.35"/>
<circle cx="366.1" cy="177.7" r="1.15" fill="#222" fill-opacity="1"/>
<circle cx="369.1" cy="177.7" r="1.15" fill="#222" fill-opacity="1"/>
<circle cx="372.1" cy="177.7" r="1.15" fill="#222" fill-opacity="1"/>
<line x1="334.9" y1="193.9" x2="372.5" y2="193.9" stroke="#404040" stroke-width="1.35"/>
<text x="353.7" y="192.2" font-size="6.3" text-anchor="middle" fill="#222">n.s.</text>
<text transform="translate(305.0,208.7) rotate(-90)" x="0" y="0" font-size="8" text-anchor="middle" fill="#222" textLength="64.6" lengthAdjust="spacingAndGlyphs">Media PAI1 (pg/mL)</text>
<circle cx="336.7" cy="201.0" r="1.75" fill="#3f9a4c" stroke="#111" stroke-width="0.95"/>
<circle cx="339.3" cy="199.1" r="1.75" fill="#3f9a4c" stroke="#111" stroke-width="0.95"/>
<circle cx="341.1" cy="203.0" r="1.75" fill="#3f9a4c" stroke="#111" stroke-width="0.95"/>
<circle cx="342.7" cy="201.7" r="1.75" fill="#3f9a4c" stroke="#111" stroke-width="0.95"/>
<circle cx="340.0" cy="203.5" r="1.75" fill="#3f9a4c" stroke="#111" stroke-width="0.95"/>
<circle cx="365.2" cy="199.1" r="1.75" fill="#9593cc" stroke="#111" stroke-width="0.95"/>
<circle cx="366.5" cy="201.7" r="1.75" fill="#9593cc" stroke="#111" stroke-width="0.95"/>
<circle cx="367.8" cy="205.6" r="1.75" fill="#9593cc" stroke="#111" stroke-width="0.95"/>
<circle cx="366.5" cy="208.2" r="1.75" fill="#9593cc" stroke="#111" stroke-width="0.95"/>
<circle cx="393.0" cy="183.0" r="1.75" fill="#e8c43a" stroke="#111" stroke-width="0.95"/>
<circle cx="393.0" cy="185.6" r="1.75" fill="#e8c43a" stroke="#111" stroke-width="0.95"/>
<circle cx="392.5" cy="188.2" r="1.75" fill="#e8c43a" stroke="#111" stroke-width="0.95"/>
<circle cx="392.0" cy="190.8" r="1.75" fill="#e8c43a" stroke="#111" stroke-width="0.95"/>
<circle cx="419.0" cy="175.2" r="1.75" fill="#c98f5c" stroke="#111" stroke-width="0.95"/>
<circle cx="419.0" cy="178.4" r="1.75" fill="#c98f5c" stroke="#111" stroke-width="0.95"/>
<circle cx="418.0" cy="182.3" r="1.75" fill="#c98f5c" stroke="#111" stroke-width="0.95"/>
<circle cx="419.8" cy="183.6" r="1.75" fill="#c98f5c" stroke="#111" stroke-width="0.95"/>
<circle cx="444.4" cy="179.7" r="1.75" fill="#45275f" stroke="#111" stroke-width="0.95"/>
<circle cx="444.4" cy="182.3" r="1.75" fill="#45275f" stroke="#111" stroke-width="0.95"/>
<circle cx="444.9" cy="185.6" r="1.75" fill="#45275f" stroke="#111" stroke-width="0.95"/>
<circle cx="445.7" cy="188.2" r="1.75" fill="#45275f" stroke="#111" stroke-width="0.95"/>
<text transform="translate(8.10,298.25) scale(1.277,1)" x="-0.84" y="0" font-size="12.50" font-weight="bold" fill="#111" style="stroke:#111;stroke-width:0.4px">I</text>
<text x="36.0" y="326.2" font-size="6.8" text-anchor="end" fill="#222">PAI1</text>
<text x="36.0" y="348.7" font-size="6.8" text-anchor="end" fill="#222">GAPDH</text>
<text x="146.7" y="325.9" font-size="6.8" text-anchor="start" fill="#222">45kD</text>
<text x="146.7" y="349.3" font-size="6.8" text-anchor="start" fill="#222">37kD</text>
<text x="36.0" y="366.6" font-size="6.8" text-anchor="end" fill="#222">PALM</text>
<text x="51.2" y="366.6" font-size="6.8" text-anchor="middle" fill="#222">BSA</text>
<text x="71.1" y="366.6" font-size="6.8" text-anchor="middle" fill="#222">100</text>
<text x="90.9" y="366.6" font-size="6.8" text-anchor="middle" fill="#222">300</text>
<text x="111.8" y="366.6" font-size="6.8" text-anchor="middle" fill="#222">600</text>
<text x="132.7" y="366.6" font-size="6.8" text-anchor="middle" fill="#222">900</text>
<defs><filter id="bl" x="-30%" y="-80%" width="160%" height="260%"><feGaussianBlur stdDeviation="0.9"/></filter><filter id="bl2" x="-30%" y="-80%" width="160%" height="260%"><feGaussianBlur stdDeviation="0.7"/></filter><filter id="bl3" x="-50%" y="-20%" width="200%" height="140%"><feGaussianBlur stdDeviation="0.6"/></filter></defs>
<rect x="39.5" y="314.8" width="102.7" height="17.2" fill="#e8e8e8"/>
<rect x="39.5" y="338.8" width="102.7" height="17.1" fill="#e6e6e6"/>
<rect x="57.9" y="315.3" width="3.4" height="16.2" fill="#fafafa" filter="url(#bl3)"/>
<rect x="57.9" y="339.3" width="3.4" height="16.1" fill="#fafafa" filter="url(#bl3)"/>
<rect x="78.3" y="315.3" width="3.8" height="16.2" fill="#fafafa" filter="url(#bl3)"/>
<rect x="78.3" y="339.3" width="3.8" height="16.1" fill="#fafafa" filter="url(#bl3)"/>
<rect x="98.9" y="315.3" width="4.0" height="16.2" fill="#fafafa" filter="url(#bl3)"/>
<rect x="98.9" y="339.3" width="4.0" height="16.1" fill="#fafafa" filter="url(#bl3)"/>
<rect x="119.7" y="315.3" width="4.0" height="16.2" fill="#fafafa" filter="url(#bl3)"/>
<rect x="119.7" y="339.3" width="4.0" height="16.1" fill="#fafafa" filter="url(#bl3)"/>
<defs><filter id="bh" x="-30%" y="-80%" width="160%" height="260%"><feGaussianBlur stdDeviation="1.6"/></filter></defs>
<rect x="42.1" y="318.0" width="15.0" height="11" rx="3" fill="#d2d2d2" filter="url(#bh)"/>
<rect x="42.1" y="320.8" width="15.0" height="5.0" rx="2.2" fill="#a0a0a0" filter="url(#bl)"/>
<rect x="62.1" y="318.0" width="15.4" height="11" rx="3" fill="#cecece" filter="url(#bh)"/>
<rect x="62.1" y="320.8" width="15.4" height="5.0" rx="2.2" fill="#959595" filter="url(#bl)"/>
<rect x="82.9" y="318.0" width="15.2" height="11" rx="3" fill="#cbcbcb" filter="url(#bh)"/>
<rect x="82.9" y="320.8" width="15.2" height="5.0" rx="2.2" fill="#8a8a8a" filter="url(#bl)"/>
<rect x="103.7" y="318.0" width="15.2" height="11" rx="3" fill="#c2c2c2" filter="url(#bh)"/>
<rect x="103.7" y="320.8" width="15.2" height="5.0" rx="2.2" fill="#5c5c5c" filter="url(#bl)"/>
<rect x="124.5" y="318.0" width="15.4" height="11" rx="3" fill="#bdbdbd" filter="url(#bh)"/>
<path d="M124.8 322.5 C129.0 321.8 134.4 321.2 139.8 320.2 L139.8 324.0 C134.4 324.8 129.0 325.2 124.8 326.4 Z" fill="#3a3a3a" filter="url(#bl)"/>
<rect x="125.0" y="325.5" width="14.4" height="4" fill="#b8b8b8" filter="url(#bl)"/>
<rect x="41.9" y="341.5" width="15.4" height="12" rx="3" fill="#c4c4c4" filter="url(#bh)"/>
<rect x="41.9" y="344.2" width="15.4" height="6.6" rx="3" fill="#121212" filter="url(#bl)"/>
<rect x="61.9" y="341.5" width="15.8" height="12" rx="3" fill="#c4c4c4" filter="url(#bh)"/>
<rect x="61.9" y="344.2" width="15.8" height="6.6" rx="3" fill="#121212" filter="url(#bl)"/>
<rect x="82.7" y="341.5" width="15.6" height="12" rx="3" fill="#c4c4c4" filter="url(#bh)"/>
<rect x="82.7" y="344.2" width="15.6" height="6.6" rx="3" fill="#121212" filter="url(#bl)"/>
<rect x="103.5" y="341.5" width="15.6" height="12" rx="3" fill="#c4c4c4" filter="url(#bh)"/>
<rect x="103.5" y="344.2" width="15.6" height="6.6" rx="3" fill="#121212" filter="url(#bl)"/>
<rect x="124.3" y="341.5" width="15.8" height="12" rx="3" fill="#c4c4c4" filter="url(#bh)"/>
<path d="M124.5 345.8 C129.0 344.8 134.4 344.0 140.1 343.2 L140.1 349.4 C134.4 350.0 129.0 350.6 124.5 351.6 Z" fill="#121212" filter="url(#bl)"/>
<rect x="39.5" y="314.8" width="102.7" height="17.2" rx="0.8" fill="none" stroke="#1a1a1a" stroke-width="1.1"/>
<rect x="39.5" y="338.8" width="102.7" height="17.1" rx="0.8" fill="none" stroke="#1a1a1a" stroke-width="1.1"/>
<text transform="translate(204.95,298.33) scale(0.800,1)" x="-0.19" y="0" font-size="12.43" font-weight="bold" fill="#111" style="stroke:#111;stroke-width:0.4px">J</text>
<path d="M232.1 312.7 V385.4 H366.9" fill="none" stroke="#111" stroke-width="1.2"/>
<line x1="228.8" y1="382.0" x2="232.1" y2="382.0" stroke="#111" stroke-width="1.0"/>
<text x="225.2" y="384.5" font-size="7" text-anchor="end" fill="#222">0.0</text>
<line x1="228.8" y1="360.7" x2="232.1" y2="360.7" stroke="#111" stroke-width="1.0"/>
<text x="225.2" y="363.2" font-size="7" text-anchor="end" fill="#222">0.5</text>
<line x1="228.8" y1="339.8" x2="232.1" y2="339.8" stroke="#111" stroke-width="1.0"/>
<text x="225.2" y="342.3" font-size="7" text-anchor="end" fill="#222">1.0</text>
<line x1="228.8" y1="318.6" x2="232.1" y2="318.6" stroke="#111" stroke-width="1.0"/>
<text x="225.2" y="321.1" font-size="7" text-anchor="end" fill="#222">1.5</text>
<line x1="248.8" y1="385.4" x2="248.8" y2="388.0" stroke="#111" stroke-width="1.0"/>
<text x="248.8" y="397.5" font-size="7" text-anchor="middle" fill="#222"></text>
<line x1="275.2" y1="385.4" x2="275.2" y2="388.0" stroke="#111" stroke-width="1.0"/>
<text x="275.2" y="397.5" font-size="7" text-anchor="middle" fill="#222"></text>
<line x1="302.1" y1="385.4" x2="302.1" y2="388.0" stroke="#111" stroke-width="1.0"/>
<text x="302.1" y="397.5" font-size="7" text-anchor="middle" fill="#222"></text>
<line x1="328.3" y1="385.4" x2="328.3" y2="388.0" stroke="#111" stroke-width="1.0"/>
<text x="328.3" y="397.5" font-size="7" text-anchor="middle" fill="#222"></text>
<line x1="354.4" y1="385.4" x2="354.4" y2="388.0" stroke="#111" stroke-width="1.0"/>
<text x="354.4" y="397.5" font-size="7" text-anchor="middle" fill="#222"></text>
<text x="232.1" y="397.4" font-size="6.8" text-anchor="end" fill="#222">PALM</text>
<text x="249.1" y="397.4" font-size="6.8" text-anchor="middle" fill="#222">BSA</text>
<text x="275.4" y="397.4" font-size="6.8" text-anchor="middle" fill="#222">100</text>
<text x="301.6" y="397.4" font-size="6.8" text-anchor="middle" fill="#222">300</text>
<text x="327.8" y="397.4" font-size="6.8" text-anchor="middle" fill="#222">600</text>
<text x="354.7" y="397.4" font-size="6.8" text-anchor="middle" fill="#222">900</text>
<rect x="240.8" y="346.3" width="16.1" height="35.3" fill="#90d29d"/>
<rect x="267.2" y="347.1" width="16.1" height="34.5" fill="#bab8e2"/>
<rect x="294.1" y="340.9" width="16.1" height="40.7" fill="#f8d98c"/>
<rect x="320.2" y="329.6" width="16.2" height="52.0" fill="#daac87"/>
<rect x="346.3" y="324.2" width="16.2" height="57.4" fill="#a98cbd"/>
<line x1="239.4" y1="311.6" x2="360.6" y2="311.6" stroke="#404040" stroke-width="1.35"/>
<circle cx="298.5" cy="308.3" r="1.15" fill="#222" fill-opacity="1"/>
<circle cx="301.5" cy="308.3" r="1.15" fill="#222" fill-opacity="1"/>
<line x1="239.4" y1="319.4" x2="329.6" y2="319.4" stroke="#404040" stroke-width="1.35"/>
<circle cx="283.0" cy="316.1" r="1.15" fill="#222" fill-opacity="1"/>
<circle cx="286.0" cy="316.1" r="1.15" fill="#222" fill-opacity="1"/>
<line x1="239.4" y1="331.0" x2="310.2" y2="331.0" stroke="#404040" stroke-width="1.35"/>
<text x="274.8" y="329.3" font-size="6.3" text-anchor="middle" fill="#222">n.s.</text>
<line x1="239.4" y1="338.5" x2="279.0" y2="338.5" stroke="#404040" stroke-width="1.35"/>
<text x="259.2" y="336.8" font-size="6.3" text-anchor="middle" fill="#222">n.s.</text>
<text transform="translate(210.3,348.0) rotate(-90)" x="0" y="0" font-size="8.5" text-anchor="middle" fill="#222" textLength="40.0" lengthAdjust="spacingAndGlyphs">PAI1/GAPDH</text>
<line x1="354.4" y1="324.2" x2="354.4" y2="321.0" stroke="#111" stroke-width="1.0"/>
<line x1="352.2" y1="321.0" x2="356.6" y2="321.0" stroke="#111" stroke-width="1.0"/>
<circle cx="247.5" cy="343.1" r="1.75" fill="#3f9a4c" stroke="#111" stroke-width="0.95"/>
<circle cx="248.3" cy="348.5" r="1.75" fill="#3f9a4c" stroke="#111" stroke-width="0.95"/>
<circle cx="251.5" cy="345.8" r="1.75" fill="#3f9a4c" stroke="#111" stroke-width="0.95"/>
<circle cx="273.1" cy="343.1" r="1.75" fill="#9593cc" stroke="#111" stroke-width="0.95"/>
<circle cx="275.2" cy="345.2" r="1.75" fill="#9593cc" stroke="#111" stroke-width="0.95"/>
<circle cx="277.1" cy="347.9" r="1.75" fill="#9593cc" stroke="#111" stroke-width="0.95"/>
<circle cx="275.2" cy="356.0" r="1.75" fill="#9593cc" stroke="#111" stroke-width="0.95"/>
<circle cx="297.9" cy="340.9" r="1.75" fill="#e8c43a" stroke="#111" stroke-width="0.95"/>
<circle cx="301.4" cy="340.9" r="1.75" fill="#e8c43a" stroke="#111" stroke-width="0.95"/>
<circle cx="304.9" cy="340.9" r="1.75" fill="#e8c43a" stroke="#111" stroke-width="0.95"/>
<circle cx="302.7" cy="342.5" r="1.75" fill="#e8c43a" stroke="#111" stroke-width="0.95"/>
<circle cx="328.3" cy="322.9" r="1.75" fill="#c98f5c" stroke="#111" stroke-width="0.95"/>
<circle cx="328.3" cy="326.9" r="1.75" fill="#c98f5c" stroke="#111" stroke-width="0.95"/>
<circle cx="329.1" cy="331.0" r="1.75" fill="#c98f5c" stroke="#111" stroke-width="0.95"/>
<circle cx="329.6" cy="333.7" r="1.75" fill="#c98f5c" stroke="#111" stroke-width="0.95"/>
<circle cx="355.2" cy="317.5" r="1.75" fill="#45275f" stroke="#111" stroke-width="0.95"/>
<circle cx="353.9" cy="326.9" r="1.75" fill="#45275f" stroke="#111" stroke-width="0.95"/>
<circle cx="356.5" cy="326.4" r="1.75" fill="#45275f" stroke="#111" stroke-width="0.95"/>
<circle cx="358.7" cy="325.6" r="1.75" fill="#45275f" stroke="#111" stroke-width="0.95"/>
<text transform="translate(9.15,430.15) scale(0.852,1)" x="-0.88" y="0" font-size="13.08" font-weight="bold" fill="#111" style="stroke:#111;stroke-width:0.4px">K</text>
<path d="M32.4 458.3 V536.6 H173.0" fill="none" stroke="#111" stroke-width="1.2"/>
<line x1="29.1" y1="533.1" x2="32.4" y2="533.1" stroke="#111" stroke-width="1.0"/>
<text x="25.5" y="535.6" font-size="7" text-anchor="end" fill="#222">0</text>
<line x1="29.1" y1="511.3" x2="32.4" y2="511.3" stroke="#111" stroke-width="1.0"/>
<text x="25.5" y="513.8" font-size="7" text-anchor="end" fill="#222">1</text>
<line x1="29.1" y1="489.9" x2="32.4" y2="489.9" stroke="#111" stroke-width="1.0"/>
<text x="25.5" y="492.4" font-size="7" text-anchor="end" fill="#222">2</text>
<line x1="29.1" y1="467.5" x2="32.4" y2="467.5" stroke="#111" stroke-width="1.0"/>
<text x="25.5" y="470.0" font-size="7" text-anchor="end" fill="#222">3</text>
<line x1="49.0" y1="536.6" x2="49.0" y2="539.2" stroke="#111" stroke-width="1.0"/>
<text x="49.0" y="549.0" font-size="7" text-anchor="middle" fill="#222"></text>
<line x1="77.2" y1="536.6" x2="77.2" y2="539.2" stroke="#111" stroke-width="1.0"/>
<text x="77.2" y="549.0" font-size="7" text-anchor="middle" fill="#222"></text>
<line x1="105.3" y1="536.6" x2="105.3" y2="539.2" stroke="#111" stroke-width="1.0"/>
<text x="105.3" y="549.0" font-size="7" text-anchor="middle" fill="#222"></text>
<line x1="133.7" y1="536.6" x2="133.7" y2="539.2" stroke="#111" stroke-width="1.0"/>
<text x="133.7" y="549.0" font-size="7" text-anchor="middle" fill="#222"></text>
<line x1="161.6" y1="536.6" x2="161.6" y2="539.2" stroke="#111" stroke-width="1.0"/>
<text x="161.6" y="549.0" font-size="7" text-anchor="middle" fill="#222"></text>
<text x="31.8" y="548.9" font-size="6.8" text-anchor="end" fill="#222">PALM</text>
<text x="49.0" y="548.9" font-size="6.8" text-anchor="middle" fill="#222">BSA</text>
<text x="77.5" y="548.9" font-size="6.8" text-anchor="middle" fill="#222">100</text>
<text x="105.4" y="548.9" font-size="6.8" text-anchor="middle" fill="#222">300</text>
<text x="133.8" y="548.9" font-size="6.8" text-anchor="middle" fill="#222">600</text>
<text x="160.9" y="548.9" font-size="6.8" text-anchor="middle" fill="#222">900</text>
<rect x="40.6" y="463.9" width="16.7" height="69.2" fill="#90d29d"/>
<rect x="68.5" y="479.3" width="17.3" height="53.8" fill="#bab8e2"/>
<rect x="96.9" y="494.0" width="16.8" height="39.1" fill="#f8d98c"/>
<rect x="125.4" y="507.4" width="16.7" height="25.7" fill="#daac87"/>
<rect x="153.3" y="509.4" width="16.7" height="23.7" fill="#a98cbd"/>
<line x1="41.7" y1="434.0" x2="161.0" y2="434.0" stroke="#404040" stroke-width="1.35"/>
<circle cx="98.3" cy="430.7" r="1.15" fill="#222" fill-opacity="1"/>
<circle cx="101.3" cy="430.7" r="1.15" fill="#222" fill-opacity="1"/>
<circle cx="104.3" cy="430.7" r="1.15" fill="#222" fill-opacity="1"/>
<line x1="41.7" y1="442.2" x2="130.8" y2="442.2" stroke="#404040" stroke-width="1.35"/>
<circle cx="83.2" cy="438.9" r="1.15" fill="#222" fill-opacity="1"/>
<circle cx="86.2" cy="438.9" r="1.15" fill="#222" fill-opacity="1"/>
<circle cx="89.2" cy="438.9" r="1.15" fill="#222" fill-opacity="1"/>
<line x1="41.7" y1="449.6" x2="110.0" y2="449.6" stroke="#404040" stroke-width="1.35"/>
<circle cx="72.8" cy="446.3" r="1.15" fill="#222" fill-opacity="1"/>
<circle cx="75.8" cy="446.3" r="1.15" fill="#222" fill-opacity="1"/>
<circle cx="78.8" cy="446.3" r="1.15" fill="#222" fill-opacity="1"/>
<line x1="41.7" y1="457.2" x2="78.4" y2="457.2" stroke="#404040" stroke-width="1.35"/>
<circle cx="57.1" cy="453.9" r="1.15" fill="#222" fill-opacity="1"/>
<circle cx="60.1" cy="453.9" r="1.15" fill="#222" fill-opacity="1"/>
<circle cx="63.1" cy="453.9" r="1.15" fill="#222" fill-opacity="1"/>
<text transform="translate(15.5,498.6) rotate(-90)" x="0" y="0" font-size="8.6" text-anchor="middle" fill="#222" font-style="italic" textLength="20.8" lengthAdjust="spacingAndGlyphs">Nr0b2</text>
<circle cx="45.3" cy="462.8" r="1.75" fill="#3f9a4c" stroke="#111" stroke-width="0.95"/>
<circle cx="48.1" cy="464.8" r="1.75" fill="#3f9a4c" stroke="#111" stroke-width="0.95"/>
<circle cx="50.1" cy="462.0" r="1.75" fill="#3f9a4c" stroke="#111" stroke-width="0.95"/>
<circle cx="52.3" cy="461.1" r="1.75" fill="#3f9a4c" stroke="#111" stroke-width="0.95"/>
<circle cx="47.3" cy="466.2" r="1.75" fill="#3f9a4c" stroke="#111" stroke-width="0.95"/>
<line x1="77.2" y1="479.3" x2="77.2" y2="475.8" stroke="#111" stroke-width="1.0"/>
<line x1="75.0" y1="475.8" x2="79.4" y2="475.8" stroke="#111" stroke-width="1.0"/>
<circle cx="76.8" cy="475.1" r="1.75" fill="#9593cc" stroke="#111" stroke-width="0.95"/>
<circle cx="77.4" cy="477.9" r="1.75" fill="#9593cc" stroke="#111" stroke-width="0.95"/>
<circle cx="78.8" cy="480.1" r="1.75" fill="#9593cc" stroke="#111" stroke-width="0.95"/>
<circle cx="80.8" cy="482.0" r="1.75" fill="#9593cc" stroke="#111" stroke-width="0.95"/>
<circle cx="103.1" cy="494.6" r="1.75" fill="#e8c43a" stroke="#111" stroke-width="0.95"/>
<circle cx="104.7" cy="491.3" r="1.75" fill="#e8c43a" stroke="#111" stroke-width="0.95"/>
<circle cx="107.5" cy="491.8" r="1.75" fill="#e8c43a" stroke="#111" stroke-width="0.95"/>
<circle cx="110.9" cy="494.6" r="1.75" fill="#e8c43a" stroke="#111" stroke-width="0.95"/>
<circle cx="129.8" cy="506.6" r="1.75" fill="#c98f5c" stroke="#111" stroke-width="0.95"/>
<circle cx="132.6" cy="505.8" r="1.75" fill="#c98f5c" stroke="#111" stroke-width="0.95"/>
<circle cx="134.6" cy="506.6" r="1.75" fill="#c98f5c" stroke="#111" stroke-width="0.95"/>
<circle cx="137.4" cy="507.1" r="1.75" fill="#c98f5c" stroke="#111" stroke-width="0.95"/>
<circle cx="157.7" cy="510.2" r="1.75" fill="#45275f" stroke="#111" stroke-width="0.95"/>
<circle cx="162.5" cy="506.0" r="1.75" fill="#45275f" stroke="#111" stroke-width="0.95"/>
<circle cx="163.9" cy="509.4" r="1.75" fill="#45275f" stroke="#111" stroke-width="0.95"/>
<circle cx="167.2" cy="510.2" r="1.75" fill="#45275f" stroke="#111" stroke-width="0.95"/>
<text transform="translate(193.55,430.25) scale(0.781,1)" x="-0.88" y="0" font-size="13.23" font-weight="bold" fill="#111" style="stroke:#111;stroke-width:0.4px">L</text>
<path d="M215.1 446.1 V536.5 H309.4" fill="none" stroke="#111" stroke-width="1.2"/>
<line x1="211.8" y1="516.1" x2="215.1" y2="516.1" stroke="#111" stroke-width="1.0"/>
<text x="208.2" y="518.6" font-size="7" text-anchor="end" fill="#222">1</text>
<line x1="211.8" y1="489.1" x2="215.1" y2="489.1" stroke="#111" stroke-width="1.0"/>
<text x="208.2" y="491.6" font-size="7" text-anchor="end" fill="#222">2</text>
<line x1="211.8" y1="462.2" x2="215.1" y2="462.2" stroke="#111" stroke-width="1.0"/>
<text x="208.2" y="464.7" font-size="7" text-anchor="end" fill="#222">3</text>
<line x1="222.5" y1="536.5" x2="222.5" y2="539.1" stroke="#111" stroke-width="1.0"/>
<text x="222.5" y="548.6" font-size="7" text-anchor="middle" fill="#222">1.0</text>
<line x1="239.3" y1="536.5" x2="239.3" y2="539.1" stroke="#111" stroke-width="1.0"/>
<text x="239.3" y="548.6" font-size="7" text-anchor="middle" fill="#222"></text>
<line x1="256.4" y1="536.5" x2="256.4" y2="539.1" stroke="#111" stroke-width="1.0"/>
<text x="256.4" y="548.6" font-size="7" text-anchor="middle" fill="#222">2.0</text>
<line x1="273.6" y1="536.5" x2="273.6" y2="539.1" stroke="#111" stroke-width="1.0"/>
<text x="273.6" y="548.6" font-size="7" text-anchor="middle" fill="#222"></text>
<line x1="290.4" y1="536.5" x2="290.4" y2="539.1" stroke="#111" stroke-width="1.0"/>
<text x="290.4" y="548.6" font-size="7" text-anchor="middle" fill="#222">3.0</text>
<line x1="307.3" y1="536.5" x2="307.3" y2="539.1" stroke="#111" stroke-width="1.0"/>
<text x="307.3" y="548.6" font-size="7" text-anchor="middle" fill="#222"></text>
<path d="M219.1 463.9 L223.4 467.1 L227.6 470.3 L231.9 473.4 L236.2 476.4 L240.4 479.4 L244.7 482.3 L249.0 485.1 L253.3 487.9 L257.5 490.7 L261.8 493.3 L266.1 496.0 L270.3 498.5 L274.6 501.0 L278.9 503.4 L283.1 505.8 L287.4 508.1 L291.7 510.4 L296.0 512.6 L300.2 514.7 L304.5 516.8 L304.5 528.8 L300.2 525.6 L296.0 522.4 L291.7 519.3 L287.4 516.3 L283.1 513.3 L278.9 510.4 L274.6 507.6 L270.3 504.8 L266.1 502.0 L261.8 499.3 L257.5 496.7 L253.3 494.2 L249.0 491.7 L244.7 489.2 L240.4 486.9 L236.2 484.6 L231.9 482.3 L227.6 480.1 L223.4 478.0 L219.1 475.9 Z" fill="#d9d9d9" fill-opacity="0.75"/>
<line x1="219.1" y1="469.9" x2="304.5" y2="522.8" stroke="#111" stroke-width="1.35"/>
<text x="269.4" y="455.6" font-size="7" text-anchor="middle" fill="#222" textLength="59.0" lengthAdjust="spacingAndGlyphs">r = &#8211;0.89&#160;&#160;&#160;<tspan font-style="italic">P</tspan> &lt; .001</text>
<text transform="translate(198.4,487.7) rotate(-90)" x="0" y="0" font-size="8.8" text-anchor="middle" fill="#222" font-style="italic" textLength="21.0" lengthAdjust="spacingAndGlyphs">Nr0b2</text>
<text x="261.7" y="563.6" font-size="9.6" text-anchor="middle" fill="#222" font-style="italic" textLength="29.7" lengthAdjust="spacingAndGlyphs">Serpine1</text>
<circle cx="219.7" cy="459.6" r="1.1" fill="#f0a030" fill-opacity="1"/>
<circle cx="222.1" cy="456.2" r="1.1" fill="#f0a030" fill-opacity="1"/>
<circle cx="223.1" cy="455.8" r="1.1" fill="#f0a030" fill-opacity="1"/>
<circle cx="223.1" cy="457.2" r="1.1" fill="#f0a030" fill-opacity="1"/>
<circle cx="223.7" cy="478.4" r="1.1" fill="#aaaaaa" fill-opacity="1"/>
<circle cx="233.8" cy="494.9" r="1.1" fill="#1f6f6a" fill-opacity="1"/>
<circle cx="236.7" cy="493.1" r="1.1" fill="#1f6f6a" fill-opacity="1"/>
<circle cx="243.9" cy="491.5" r="1.1" fill="#1f6f6a" fill-opacity="1"/>
<circle cx="244.3" cy="496.5" r="1.1" fill="#1f6f6a" fill-opacity="1"/>
<circle cx="272.2" cy="508.7" r="1.1" fill="#d0307a" fill-opacity="1"/>
<circle cx="278.3" cy="516.1" r="1.1" fill="#d0307a" fill-opacity="1"/>
<circle cx="282.3" cy="516.1" r="1.1" fill="#d0307a" fill-opacity="1"/>
<circle cx="304.5" cy="513.7" r="1.1" fill="#d0307a" fill-opacity="1"/>
<circle cx="280.7" cy="511.7" r="1.1" fill="#4aa0e0" fill-opacity="1"/>
<circle cx="298.4" cy="509.7" r="1.1" fill="#4aa0e0" fill-opacity="1"/>
<circle cx="298.4" cy="510.7" r="1.1" fill="#4aa0e0" fill-opacity="1"/>
<text transform="translate(328.65,430.25) scale(1.118,1)" x="-0.86" y="0" font-size="12.79" font-weight="bold" fill="#111" style="stroke:#111;stroke-width:0.4px">M</text>
<path d="M358.7 455.7 V536.2 H501.7" fill="none" stroke="#111" stroke-width="1.2"/>
<line x1="355.4" y1="532.8" x2="358.7" y2="532.8" stroke="#111" stroke-width="1.0"/>
<text x="351.8" y="535.3" font-size="7" text-anchor="end" fill="#222">0.0</text>
<line x1="355.4" y1="518.4" x2="358.7" y2="518.4" stroke="#111" stroke-width="1.0"/>
<text x="351.8" y="520.9" font-size="7" text-anchor="end" fill="#222">0.5</text>
<line x1="355.4" y1="503.4" x2="358.7" y2="503.4" stroke="#111" stroke-width="1.0"/>
<text x="351.8" y="505.9" font-size="7" text-anchor="end" fill="#222">1.0</text>
<line x1="355.4" y1="488.9" x2="358.7" y2="488.9" stroke="#111" stroke-width="1.0"/>
<text x="351.8" y="491.4" font-size="7" text-anchor="end" fill="#222">1.5</text>
<line x1="355.4" y1="474.5" x2="358.7" y2="474.5" stroke="#111" stroke-width="1.0"/>
<text x="351.8" y="477.0" font-size="7" text-anchor="end" fill="#222">2.0</text>
<line x1="355.4" y1="459.5" x2="358.7" y2="459.5" stroke="#111" stroke-width="1.0"/>
<text x="351.8" y="462.0" font-size="7" text-anchor="end" fill="#222">2.5</text>
<line x1="375.6" y1="536.2" x2="375.6" y2="538.8" stroke="#111" stroke-width="1.0"/>
<text x="375.6" y="550.2" font-size="7" text-anchor="middle" fill="#222"></text>
<line x1="403.0" y1="536.2" x2="403.0" y2="538.8" stroke="#111" stroke-width="1.0"/>
<text x="403.0" y="550.2" font-size="7" text-anchor="middle" fill="#222"></text>
<line x1="431.0" y1="536.2" x2="431.0" y2="538.8" stroke="#111" stroke-width="1.0"/>
<text x="431.0" y="550.2" font-size="7" text-anchor="middle" fill="#222"></text>
<line x1="459.1" y1="536.2" x2="459.1" y2="538.8" stroke="#111" stroke-width="1.0"/>
<text x="459.1" y="550.2" font-size="7" text-anchor="middle" fill="#222"></text>
<line x1="486.6" y1="536.2" x2="486.6" y2="538.8" stroke="#111" stroke-width="1.0"/>
<text x="486.6" y="550.2" font-size="7" text-anchor="middle" fill="#222"></text>
<text x="358.7" y="550.1" font-size="6.8" text-anchor="end" fill="#222">PALM</text>
<text x="375.3" y="550.1" font-size="6.8" text-anchor="middle" fill="#222">BSA</text>
<text x="403.2" y="550.1" font-size="6.8" text-anchor="middle" fill="#222">100</text>
<text x="430.6" y="550.1" font-size="6.8" text-anchor="middle" fill="#222">300</text>
<text x="458.8" y="550.1" font-size="6.8" text-anchor="middle" fill="#222">600</text>
<text x="486.2" y="550.1" font-size="6.8" text-anchor="middle" fill="#222">900</text>
<rect x="367.4" y="465.0" width="16.4" height="67.8" fill="#90d29d"/>
<rect x="394.8" y="471.1" width="16.4" height="61.7" fill="#bab8e2"/>
<rect x="422.8" y="485.2" width="16.4" height="47.6" fill="#f8d98c"/>
<rect x="450.8" y="500.5" width="16.7" height="32.3" fill="#daac87"/>
<rect x="478.4" y="501.9" width="16.5" height="30.9" fill="#a98cbd"/>
<line x1="367.6" y1="433.0" x2="486.4" y2="433.0" stroke="#404040" stroke-width="1.35"/>
<circle cx="424.0" cy="429.7" r="1.15" fill="#222" fill-opacity="1"/>
<circle cx="427.0" cy="429.7" r="1.15" fill="#222" fill-opacity="1"/>
<circle cx="430.0" cy="429.7" r="1.15" fill="#222" fill-opacity="1"/>
<line x1="367.6" y1="441.8" x2="456.8" y2="441.8" stroke="#404040" stroke-width="1.35"/>
<circle cx="409.2" cy="438.5" r="1.15" fill="#222" fill-opacity="1"/>
<circle cx="412.2" cy="438.5" r="1.15" fill="#222" fill-opacity="1"/>
<circle cx="415.2" cy="438.5" r="1.15" fill="#222" fill-opacity="1"/>
<line x1="367.6" y1="449.1" x2="437.0" y2="449.1" stroke="#404040" stroke-width="1.35"/>
<circle cx="399.3" cy="445.8" r="1.15" fill="#222" fill-opacity="1"/>
<circle cx="402.3" cy="445.8" r="1.15" fill="#222" fill-opacity="1"/>
<circle cx="405.3" cy="445.8" r="1.15" fill="#222" fill-opacity="1"/>
<line x1="367.6" y1="456.8" x2="406.7" y2="456.8" stroke="#404040" stroke-width="1.35"/>
<text x="387.1" y="455.1" font-size="6.3" text-anchor="middle" fill="#222">n.s.</text>
<text transform="translate(336.5,494.0) rotate(-90)" x="0" y="0" font-size="8.8" text-anchor="middle" fill="#222" font-style="italic" textLength="24.9" lengthAdjust="spacingAndGlyphs">Abcb11</text>
<line x1="375.6" y1="465.0" x2="375.6" y2="460.0" stroke="#111" stroke-width="1.0"/>
<line x1="373.4" y1="460.0" x2="377.8" y2="460.0" stroke="#111" stroke-width="1.0"/>
<line x1="403.0" y1="471.1" x2="403.0" y2="467.0" stroke="#111" stroke-width="1.0"/>
<line x1="400.8" y1="467.0" x2="405.2" y2="467.0" stroke="#111" stroke-width="1.0"/>
<circle cx="373.7" cy="461.5" r="1.75" fill="#3f9a4c" stroke="#111" stroke-width="0.95"/>
<circle cx="376.6" cy="463.8" r="1.75" fill="#3f9a4c" stroke="#111" stroke-width="0.95"/>
<circle cx="380.4" cy="462.4" r="1.75" fill="#3f9a4c" stroke="#111" stroke-width="0.95"/>
<circle cx="374.6" cy="471.6" r="1.75" fill="#3f9a4c" stroke="#111" stroke-width="0.95"/>
<circle cx="402.6" cy="466.7" r="1.75" fill="#9593cc" stroke="#111" stroke-width="0.95"/>
<circle cx="404.6" cy="468.7" r="1.75" fill="#9593cc" stroke="#111" stroke-width="0.95"/>
<circle cx="402.6" cy="474.5" r="1.75" fill="#9593cc" stroke="#111" stroke-width="0.95"/>
<circle cx="401.7" cy="477.4" r="1.75" fill="#9593cc" stroke="#111" stroke-width="0.95"/>
<circle cx="429.4" cy="484.6" r="1.75" fill="#e8c43a" stroke="#111" stroke-width="0.95"/>
<circle cx="431.4" cy="482.6" r="1.75" fill="#e8c43a" stroke="#111" stroke-width="0.95"/>
<circle cx="435.2" cy="481.7" r="1.75" fill="#e8c43a" stroke="#111" stroke-width="0.95"/>
<circle cx="430.6" cy="488.9" r="1.75" fill="#e8c43a" stroke="#111" stroke-width="0.95"/>
<circle cx="454.5" cy="499.0" r="1.75" fill="#c98f5c" stroke="#111" stroke-width="0.95"/>
<circle cx="454.5" cy="502.8" r="1.75" fill="#c98f5c" stroke="#111" stroke-width="0.95"/>
<circle cx="458.8" cy="499.6" r="1.75" fill="#c98f5c" stroke="#111" stroke-width="0.95"/>
<circle cx="462.3" cy="499.6" r="1.75" fill="#c98f5c" stroke="#111" stroke-width="0.95"/>
<circle cx="462.3" cy="502.8" r="1.75" fill="#c98f5c" stroke="#111" stroke-width="0.95"/>
<circle cx="481.9" cy="499.6" r="1.75" fill="#45275f" stroke="#111" stroke-width="0.95"/>
<circle cx="486.2" cy="501.9" r="1.75" fill="#45275f" stroke="#111" stroke-width="0.95"/>
<circle cx="489.1" cy="501.3" r="1.75" fill="#45275f" stroke="#111" stroke-width="0.95"/>
<circle cx="487.7" cy="506.2" r="1.75" fill="#45275f" stroke="#111" stroke-width="0.95"/>
<text transform="translate(8.55,592.55) scale(1.170,1)" x="-0.81" y="0" font-size="12.06" font-weight="bold" fill="#111" style="stroke:#111;stroke-width:0.4px">N</text>
<path d="M37.8 608.9 V693.9 H131.2" fill="none" stroke="#111" stroke-width="1.2"/>
<line x1="34.5" y1="674.2" x2="37.8" y2="674.2" stroke="#111" stroke-width="1.0"/>
<text x="30.9" y="676.7" font-size="7" text-anchor="end" fill="#222">1.0</text>
<line x1="34.5" y1="653.5" x2="37.8" y2="653.5" stroke="#111" stroke-width="1.0"/>
<text x="30.9" y="656.0" font-size="7" text-anchor="end" fill="#222">1.5</text>
<line x1="34.5" y1="632.9" x2="37.8" y2="632.9" stroke="#111" stroke-width="1.0"/>
<text x="30.9" y="635.4" font-size="7" text-anchor="end" fill="#222">2.0</text>
<line x1="34.5" y1="612.3" x2="37.8" y2="612.3" stroke="#111" stroke-width="1.0"/>
<text x="30.9" y="614.8" font-size="7" text-anchor="end" fill="#222">2.5</text>
<line x1="44.7" y1="693.9" x2="44.7" y2="696.5" stroke="#111" stroke-width="1.0"/>
<text x="44.7" y="706.6" font-size="7" text-anchor="middle" fill="#222">1.0</text>
<line x1="61.0" y1="693.9" x2="61.0" y2="696.5" stroke="#111" stroke-width="1.0"/>
<text x="61.0" y="706.6" font-size="7" text-anchor="middle" fill="#222"></text>
<line x1="77.3" y1="693.9" x2="77.3" y2="696.5" stroke="#111" stroke-width="1.0"/>
<text x="77.3" y="706.6" font-size="7" text-anchor="middle" fill="#222">2.0</text>
<line x1="94.1" y1="693.9" x2="94.1" y2="696.5" stroke="#111" stroke-width="1.0"/>
<text x="94.1" y="706.6" font-size="7" text-anchor="middle" fill="#222"></text>
<line x1="111.0" y1="693.9" x2="111.0" y2="696.5" stroke="#111" stroke-width="1.0"/>
<text x="111.0" y="706.6" font-size="7" text-anchor="middle" fill="#222">3.0</text>
<line x1="127.9" y1="693.9" x2="127.9" y2="696.5" stroke="#111" stroke-width="1.0"/>
<text x="127.9" y="706.6" font-size="7" text-anchor="middle" fill="#222"></text>
<path d="M42.2 622.1 L46.4 625.3 L50.5 628.5 L54.7 631.6 L58.8 634.7 L63.0 637.7 L67.2 640.6 L71.3 643.6 L75.5 646.4 L79.6 649.2 L83.8 652.0 L88.0 654.7 L92.1 657.4 L96.3 660.0 L100.4 662.5 L104.6 665.0 L108.8 667.4 L112.9 669.7 L117.1 672.0 L121.2 674.2 L125.4 676.4 L125.4 687.4 L121.2 684.1 L117.1 680.8 L112.9 677.6 L108.8 674.5 L104.6 671.5 L100.4 668.4 L96.3 665.5 L92.1 662.6 L88.0 659.8 L83.8 657.0 L79.6 654.3 L75.5 651.6 L71.3 649.0 L67.2 646.4 L63.0 643.9 L58.8 641.5 L54.7 639.0 L50.5 636.7 L46.4 634.4 L42.2 632.1 Z" fill="#d9d9d9" fill-opacity="0.75"/>
<line x1="42.2" y1="627.1" x2="125.4" y2="681.9" stroke="#111" stroke-width="1.35"/>
<text x="100.2" y="635.4" font-size="7" text-anchor="middle" fill="#222" textLength="60.3" lengthAdjust="spacingAndGlyphs">r = &#8211;0.91&#160;&#160;&#160;<tspan font-style="italic">P</tspan> &lt; .001</text>
<text transform="translate(15.3,651.8) rotate(-90)" x="0" y="0" font-size="8.8" text-anchor="middle" fill="#222" font-style="italic" textLength="25.0" lengthAdjust="spacingAndGlyphs">Abcb11</text>
<text x="83.7" y="721.6" font-size="9.6" text-anchor="middle" fill="#222" font-style="italic" textLength="28.9" lengthAdjust="spacingAndGlyphs">Serpine1</text>
<circle cx="44.7" cy="614.6" r="1.1" fill="#f0a030" fill-opacity="1"/>
<circle cx="45.6" cy="616.2" r="1.1" fill="#f0a030" fill-opacity="1"/>
<circle cx="45.2" cy="618.8" r="1.1" fill="#e8c840" fill-opacity="1"/>
<circle cx="46.0" cy="621.3" r="1.1" fill="#e8c840" fill-opacity="1"/>
<circle cx="42.7" cy="631.0" r="1.1" fill="#aaaaaa" fill-opacity="1"/>
<circle cx="46.6" cy="636.7" r="1.1" fill="#aaaaaa" fill-opacity="1"/>
<circle cx="108.1" cy="666.5" r="1.1" fill="#aaaaaa" fill-opacity="1"/>
<circle cx="65.8" cy="645.4" r="1.1" fill="#3aa0a0" fill-opacity="1"/>
<circle cx="55.6" cy="654.6" r="1.1" fill="#1f6f6a" fill-opacity="1"/>
<circle cx="58.7" cy="651.2" r="1.1" fill="#1f6f6a" fill-opacity="1"/>
<circle cx="94.1" cy="667.5" r="1.1" fill="#c0308a" fill-opacity="1"/>
<circle cx="99.5" cy="672.7" r="1.1" fill="#c0308a" fill-opacity="1"/>
<circle cx="101.4" cy="672.7" r="1.1" fill="#c0308a" fill-opacity="1"/>
<circle cx="104.3" cy="672.3" r="1.1" fill="#c0308a" fill-opacity="1"/>
<circle cx="125.4" cy="676.5" r="1.1" fill="#c0308a" fill-opacity="1"/>
<circle cx="119.1" cy="669.4" r="1.1" fill="#40b0e0" fill-opacity="1"/>
<circle cx="119.1" cy="671.3" r="1.1" fill="#40b0e0" fill-opacity="1"/>
<text transform="translate(149.25,592.54) scale(1.117,1)" x="-0.48" y="0" font-size="11.72" font-weight="bold" fill="#111" style="stroke:#111;stroke-width:0.4px">O</text>
<path d="M178.6 621.2 V693.6 H318.8" fill="none" stroke="#111" stroke-width="1.2"/>
<line x1="175.3" y1="690.8" x2="178.6" y2="690.8" stroke="#111" stroke-width="1.0"/>
<text x="171.7" y="693.3" font-size="7" text-anchor="end" fill="#222">0.0</text>
<line x1="175.3" y1="668.5" x2="178.6" y2="668.5" stroke="#111" stroke-width="1.0"/>
<text x="171.7" y="671.0" font-size="7" text-anchor="end" fill="#222">0.5</text>
<line x1="175.3" y1="646.5" x2="178.6" y2="646.5" stroke="#111" stroke-width="1.0"/>
<text x="171.7" y="649.0" font-size="7" text-anchor="end" fill="#222">1.0</text>
<line x1="175.3" y1="624.8" x2="178.6" y2="624.8" stroke="#111" stroke-width="1.0"/>
<text x="171.7" y="627.3" font-size="7" text-anchor="end" fill="#222">1.5</text>
<line x1="195.4" y1="693.6" x2="195.4" y2="696.2" stroke="#111" stroke-width="1.0"/>
<text x="195.4" y="707.1" font-size="7" text-anchor="middle" fill="#222"></text>
<line x1="222.1" y1="693.6" x2="222.1" y2="696.2" stroke="#111" stroke-width="1.0"/>
<text x="222.1" y="707.1" font-size="7" text-anchor="middle" fill="#222"></text>
<line x1="249.3" y1="693.6" x2="249.3" y2="696.2" stroke="#111" stroke-width="1.0"/>
<text x="249.3" y="707.1" font-size="7" text-anchor="middle" fill="#222"></text>
<line x1="276.3" y1="693.6" x2="276.3" y2="696.2" stroke="#111" stroke-width="1.0"/>
<text x="276.3" y="707.1" font-size="7" text-anchor="middle" fill="#222"></text>
<line x1="303.0" y1="693.6" x2="303.0" y2="696.2" stroke="#111" stroke-width="1.0"/>
<text x="303.0" y="707.1" font-size="7" text-anchor="middle" fill="#222"></text>
<text x="179.2" y="707.0" font-size="6.8" text-anchor="end" fill="#222">PALM</text>
<text x="195.5" y="707.0" font-size="6.8" text-anchor="middle" fill="#222">BSA</text>
<text x="222.3" y="707.0" font-size="6.8" text-anchor="middle" fill="#222">100</text>
<text x="249.2" y="707.0" font-size="6.8" text-anchor="middle" fill="#222">300</text>
<text x="276.1" y="707.0" font-size="6.8" text-anchor="middle" fill="#222">600</text>
<text x="303.0" y="707.0" font-size="6.8" text-anchor="middle" fill="#222">900</text>
<rect x="187.5" y="633.7" width="15.9" height="57.1" fill="#90d29d"/>
<rect x="214.0" y="632.6" width="16.2" height="58.2" fill="#bab8e2"/>
<rect x="241.4" y="638.7" width="15.9" height="52.1" fill="#f8d98c"/>
<rect x="268.4" y="642.3" width="15.9" height="48.5" fill="#daac87"/>
<rect x="294.9" y="646.2" width="16.2" height="44.6" fill="#a98cbd"/>
<line x1="186.9" y1="594.2" x2="306.2" y2="594.2" stroke="#404040" stroke-width="1.35"/>
<circle cx="243.6" cy="590.9" r="1.15" fill="#222" fill-opacity="1"/>
<circle cx="246.6" cy="590.9" r="1.15" fill="#222" fill-opacity="1"/>
<circle cx="249.6" cy="590.9" r="1.15" fill="#222" fill-opacity="1"/>
<line x1="186.9" y1="603.5" x2="277.3" y2="603.5" stroke="#404040" stroke-width="1.35"/>
<circle cx="230.6" cy="600.2" r="1.15" fill="#222" fill-opacity="1"/>
<circle cx="233.6" cy="600.2" r="1.15" fill="#222" fill-opacity="1"/>
<line x1="186.9" y1="612.3" x2="257.3" y2="612.3" stroke="#404040" stroke-width="1.35"/>
<text x="222.1" y="610.6" font-size="6.3" text-anchor="middle" fill="#222">n.s.</text>
<line x1="186.9" y1="620.8" x2="225.4" y2="620.8" stroke="#404040" stroke-width="1.35"/>
<text x="206.2" y="619.1" font-size="6.3" text-anchor="middle" fill="#222">n.s.</text>
<text transform="translate(156.1,656.1) rotate(-90)" x="0" y="0" font-size="7.8" text-anchor="middle" fill="#222" font-style="italic" textLength="21.2" lengthAdjust="spacingAndGlyphs">Nr1H4</text>
<line x1="222.1" y1="632.6" x2="222.1" y2="629.0" stroke="#111" stroke-width="1.0"/>
<line x1="219.9" y1="629.0" x2="224.3" y2="629.0" stroke="#111" stroke-width="1.0"/>
<line x1="249.3" y1="638.7" x2="249.3" y2="635.9" stroke="#111" stroke-width="1.0"/>
<line x1="247.1" y1="635.9" x2="251.5" y2="635.9" stroke="#111" stroke-width="1.0"/>
<line x1="276.3" y1="642.3" x2="276.3" y2="640.5" stroke="#111" stroke-width="1.0"/>
<line x1="274.1" y1="640.5" x2="278.5" y2="640.5" stroke="#111" stroke-width="1.0"/>
<circle cx="191.7" cy="634.0" r="1.75" fill="#3f9a4c" stroke="#111" stroke-width="0.95"/>
<circle cx="194.0" cy="631.7" r="1.75" fill="#3f9a4c" stroke="#111" stroke-width="0.95"/>
<circle cx="195.9" cy="633.1" r="1.75" fill="#3f9a4c" stroke="#111" stroke-width="0.95"/>
<circle cx="198.7" cy="633.1" r="1.75" fill="#3f9a4c" stroke="#111" stroke-width="0.95"/>
<circle cx="221.0" cy="626.7" r="1.75" fill="#9593cc" stroke="#111" stroke-width="0.95"/>
<circle cx="223.0" cy="631.2" r="1.75" fill="#9593cc" stroke="#111" stroke-width="0.95"/>
<circle cx="220.2" cy="635.9" r="1.75" fill="#9593cc" stroke="#111" stroke-width="0.95"/>
<circle cx="223.0" cy="635.9" r="1.75" fill="#9593cc" stroke="#111" stroke-width="0.95"/>
<circle cx="249.7" cy="631.2" r="1.75" fill="#e8c43a" stroke="#111" stroke-width="0.95"/>
<circle cx="248.1" cy="641.5" r="1.75" fill="#e8c43a" stroke="#111" stroke-width="0.95"/>
<circle cx="248.9" cy="643.4" r="1.75" fill="#e8c43a" stroke="#111" stroke-width="0.95"/>
<circle cx="247.0" cy="642.3" r="1.75" fill="#e8c43a" stroke="#111" stroke-width="0.95"/>
<circle cx="276.8" cy="636.8" r="1.75" fill="#c98f5c" stroke="#111" stroke-width="0.95"/>
<circle cx="276.0" cy="643.4" r="1.75" fill="#c98f5c" stroke="#111" stroke-width="0.95"/>
<circle cx="276.8" cy="646.2" r="1.75" fill="#c98f5c" stroke="#111" stroke-width="0.95"/>
<circle cx="276.0" cy="648.5" r="1.75" fill="#c98f5c" stroke="#111" stroke-width="0.95"/>
<circle cx="301.9" cy="642.9" r="1.75" fill="#45275f" stroke="#111" stroke-width="0.95"/>
<circle cx="305.5" cy="645.1" r="1.75" fill="#45275f" stroke="#111" stroke-width="0.95"/>
<circle cx="303.3" cy="648.5" r="1.75" fill="#45275f" stroke="#111" stroke-width="0.95"/>
<circle cx="304.7" cy="650.7" r="1.75" fill="#45275f" stroke="#111" stroke-width="0.95"/>
<text transform="translate(338.25,592.95) scale(0.915,1)" x="-0.83" y="0" font-size="12.35" font-weight="bold" fill="#111" style="stroke:#111;stroke-width:0.4px">P</text>
<path d="M366.0 610.4 V694.3 H463.1" fill="none" stroke="#111" stroke-width="1.2"/>
<line x1="362.7" y1="692.8" x2="366.0" y2="692.8" stroke="#111" stroke-width="1.0"/>
<text x="359.1" y="695.3" font-size="7" text-anchor="end" fill="#222">0.9</text>
<line x1="362.7" y1="679.7" x2="366.0" y2="679.7" stroke="#111" stroke-width="1.0"/>
<text x="359.1" y="682.2" font-size="7" text-anchor="end" fill="#222"></text>
<line x1="362.7" y1="666.6" x2="366.0" y2="666.6" stroke="#111" stroke-width="1.0"/>
<text x="359.1" y="669.1" font-size="7" text-anchor="end" fill="#222"></text>
<line x1="362.7" y1="653.5" x2="366.0" y2="653.5" stroke="#111" stroke-width="1.0"/>
<text x="359.1" y="656.0" font-size="7" text-anchor="end" fill="#222">1.2</text>
<line x1="362.7" y1="640.3" x2="366.0" y2="640.3" stroke="#111" stroke-width="1.0"/>
<text x="359.1" y="642.8" font-size="7" text-anchor="end" fill="#222"></text>
<line x1="362.7" y1="627.2" x2="366.0" y2="627.2" stroke="#111" stroke-width="1.0"/>
<text x="359.1" y="629.7" font-size="7" text-anchor="end" fill="#222"></text>
<line x1="362.7" y1="614.1" x2="366.0" y2="614.1" stroke="#111" stroke-width="1.0"/>
<text x="359.1" y="616.6" font-size="7" text-anchor="end" fill="#222">1.5</text>
<line x1="373.1" y1="694.3" x2="373.1" y2="696.9" stroke="#111" stroke-width="1.0"/>
<text x="373.1" y="707.9" font-size="7" text-anchor="middle" fill="#222">1.0</text>
<line x1="390.7" y1="694.3" x2="390.7" y2="696.9" stroke="#111" stroke-width="1.0"/>
<text x="390.7" y="707.9" font-size="7" text-anchor="middle" fill="#222"></text>
<line x1="408.0" y1="694.3" x2="408.0" y2="696.9" stroke="#111" stroke-width="1.0"/>
<text x="408.0" y="707.9" font-size="7" text-anchor="middle" fill="#222">2.0</text>
<line x1="425.6" y1="694.3" x2="425.6" y2="696.9" stroke="#111" stroke-width="1.0"/>
<text x="425.6" y="707.9" font-size="7" text-anchor="middle" fill="#222"></text>
<line x1="442.8" y1="694.3" x2="442.8" y2="696.9" stroke="#111" stroke-width="1.0"/>
<text x="442.8" y="707.9" font-size="7" text-anchor="middle" fill="#222">3.0</text>
<line x1="460.5" y1="694.3" x2="460.5" y2="696.9" stroke="#111" stroke-width="1.0"/>
<text x="460.5" y="707.9" font-size="7" text-anchor="middle" fill="#222"></text>
<path d="M370.5 634.7 L374.8 637.2 L379.1 639.6 L383.5 642.0 L387.8 644.3 L392.1 646.6 L396.4 648.8 L400.7 650.9 L405.1 653.0 L409.4 655.0 L413.7 657.0 L418.0 658.9 L422.3 660.7 L426.7 662.4 L431.0 664.1 L435.3 665.6 L439.6 667.1 L443.9 668.5 L448.3 669.9 L452.6 671.1 L456.9 672.3 L456.9 686.3 L452.6 683.6 L448.3 681.0 L443.9 678.5 L439.6 676.0 L435.3 673.6 L431.0 671.4 L426.7 669.1 L422.3 667.0 L418.0 665.0 L413.7 663.0 L409.4 661.1 L405.1 659.3 L400.7 657.5 L396.4 655.8 L392.1 654.1 L387.8 652.5 L383.5 651.0 L379.1 649.5 L374.8 648.1 L370.5 646.7 Z" fill="#d9d9d9" fill-opacity="0.75"/>
<line x1="370.5" y1="640.7" x2="456.9" y2="679.3" stroke="#111" stroke-width="1.35"/>
<text x="427.9" y="627.7" font-size="7" text-anchor="middle" fill="#222" textLength="60.0" lengthAdjust="spacingAndGlyphs">r = &#8211;0.79&#160;&#160;&#160;<tspan font-style="italic">P</tspan> &lt; .001</text>
<text transform="translate(343.8,650.0) rotate(-90)" x="0" y="0" font-size="8.4" text-anchor="middle" fill="#222" font-style="italic" textLength="20.4" lengthAdjust="spacingAndGlyphs">Nr1h4</text>
<text x="413.8" y="721.2" font-size="9.6" text-anchor="middle" fill="#222" font-style="italic" textLength="28.4" lengthAdjust="spacingAndGlyphs">Serpine1</text>
<circle cx="375.1" cy="624.2" r="1.1" fill="#f0c060" fill-opacity="1"/>
<circle cx="375.7" cy="630.2" r="1.1" fill="#f0c060" fill-opacity="1"/>
<circle cx="374.5" cy="636.3" r="1.1" fill="#f0c060" fill-opacity="1"/>
<circle cx="373.7" cy="637.3" r="1.1" fill="#f0c060" fill-opacity="1"/>
<circle cx="371.1" cy="644.4" r="1.1" fill="#f0c060" fill-opacity="1"/>
<circle cx="373.1" cy="645.4" r="1.1" fill="#f0c060" fill-opacity="1"/>
<circle cx="375.1" cy="650.4" r="1.1" fill="#70c0e8" fill-opacity="1"/>
<circle cx="439.7" cy="668.0" r="1.1" fill="#70c0e8" fill-opacity="1"/>
<circle cx="450.9" cy="653.9" r="1.1" fill="#70c0e8" fill-opacity="1"/>
<circle cx="451.9" cy="669.2" r="1.1" fill="#70c0e8" fill-opacity="1"/>
<circle cx="387.8" cy="634.9" r="1.1" fill="#1f6f6a" fill-opacity="1"/>
<circle cx="385.2" cy="664.6" r="1.1" fill="#1f6f6a" fill-opacity="1"/>
<circle cx="395.9" cy="668.6" r="1.1" fill="#1f6f6a" fill-opacity="1"/>
<circle cx="395.9" cy="655.1" r="1.1" fill="#889" fill-opacity="1"/>
<circle cx="425.0" cy="670.0" r="1.1" fill="#d0307a" fill-opacity="1"/>
<circle cx="430.7" cy="670.0" r="1.1" fill="#d0307a" fill-opacity="1"/>
<circle cx="456.9" cy="686.8" r="1.1" fill="#d0307a" fill-opacity="1"/>
<circle cx="433.1" cy="676.7" r="1.1" fill="#3a90d0" fill-opacity="1"/>
<circle cx="435.1" cy="680.7" r="1.1" fill="#8030a0" fill-opacity="1"/>
</svg></body></html>
